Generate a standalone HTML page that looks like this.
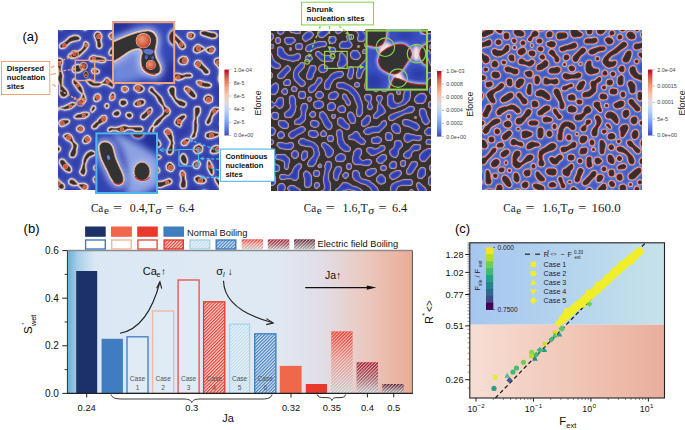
<!DOCTYPE html>
<html><head><meta charset="utf-8"><style>
html,body{margin:0;padding:0;background:#fff;width:685px;height:430px;overflow:hidden}
svg{display:block}
</style></head><body>
<svg width="685" height="430" viewBox="0 0 685 430">
<defs>
<path id="bp1" d="M63.0,28.1 61.0,28.5 60.0,28.1 59.4,27.0 61.0,26.4 63.0,26.6 63.6,27.0 63.0,28.1ZM85.2,29.1 82.2,28.1 80.9,27.0 83.2,26.4 86.2,26.6 86.8,27.0 86.6,28.0 85.2,29.1ZM135.5,32.2 133.5,32.6 131.5,32.0 133.3,28.0 134.5,26.7 136.5,26.9 137.6,29.0 137.0,31.0 135.5,32.2ZM184.8,27.1 182.8,27.5 181.7,27.0 183.8,26.6 184.8,27.1ZM221.0,28.1 220.4,27.0 221.0,26.6 221.4,27.0 221.0,28.1ZM150.6,36.1 148.6,36.5 146.6,35.2 146.0,34.0 146.6,31.9 148.6,31.4 150.7,32.0 151.5,34.0 150.6,36.1ZM215.0,37.1 212.0,37.5 202.9,34.5 201.8,34.0 201.4,33.0 201.9,31.9 204.9,31.4 211.0,33.3 214.0,33.5 216.0,35.0 216.0,36.0 215.0,37.1ZM100.3,47.1 99.3,47.5 98.1,47.0 97.7,46.0 97.6,42.0 95.2,36.0 95.7,34.0 97.2,32.9 99.3,33.4 100.8,36.0 99.8,40.0 99.9,42.0 100.8,44.0 100.8,46.0 100.3,47.1ZM113.3,38.2 112.3,38.5 111.3,38.1 109.8,36.0 110.3,34.8 112.3,33.5 115.4,34.9 115.8,36.0 115.4,37.1 113.3,38.2ZM126.4,36.1 124.4,36.5 123.4,36.0 123.4,35.0 126.4,33.5 128.3,34.0 126.4,36.1ZM182.8,48.1 181.8,48.1 179.8,46.2 177.5,42.0 174.7,39.2 171.7,37.7 165.7,37.5 160.6,42.0 159.6,41.0 160.6,39.5 165.7,35.9 168.7,34.5 171.7,33.9 174.7,35.4 183.3,44.0 184.3,46.0 184.3,47.0 182.8,48.1ZM192.8,37.1 190.8,38.0 188.8,37.1 188.3,36.0 188.7,34.0 190.8,33.4 192.8,33.9 193.8,35.0 192.8,37.1ZM64.0,47.1 61.0,47.4 60.5,46.0 60.9,45.0 66.0,41.8 70.1,37.9 74.1,36.5 76.1,36.4 78.1,36.9 79.2,38.0 79.1,39.0 78.1,39.5 72.1,40.7 69.4,42.0 64.0,47.1ZM74.1,57.2 72.1,57.5 69.3,56.0 70.1,54.9 78.1,52.3 81.1,50.8 83.6,48.0 84.5,46.0 85.2,43.0 86.2,43.0 87.2,43.8 87.7,45.0 87.3,46.0 85.3,49.0 79.1,55.1 74.1,57.2ZM155.6,68.1 153.6,68.5 152.4,67.0 152.1,66.0 152.9,64.0 153.1,57.0 150.4,53.0 144.5,47.6 142.5,46.6 138.5,46.5 135.5,45.1 135.0,44.0 135.5,42.9 137.5,42.4 139.5,42.8 151.6,48.9 153.7,51.0 154.2,53.0 154.1,59.0 157.2,65.0 156.8,67.0 155.6,68.1ZM111.3,54.1 110.3,54.0 109.9,53.0 111.2,50.0 112.3,48.9 115.4,47.5 117.4,47.4 123.4,45.5 124.5,46.0 124.9,47.0 124.4,48.1 123.4,48.5 119.4,48.6 116.4,50.2 113.3,53.1 111.3,54.1ZM198.9,51.2 196.9,52.0 194.9,51.1 194.3,50.0 194.7,48.0 196.9,45.9 197.9,45.5 200.9,46.9 203.7,49.0 198.9,51.2ZM212.0,52.1 211.0,52.5 209.9,52.2 207.9,51.1 207.0,50.0 207.7,49.0 208.9,48.5 212.0,47.5 213.0,47.9 214.0,49.0 213.1,51.0 212.0,52.1ZM170.7,55.1 168.7,56.0 166.7,55.1 165.1,53.0 165.2,51.0 167.7,49.5 169.7,49.9 170.8,51.0 171.7,53.0 170.7,55.1ZM104.3,61.1 101.3,61.6 98.2,60.7 91.2,60.5 90.2,59.0 91.2,57.4 93.2,56.5 94.2,56.5 96.2,57.3 99.3,57.5 104.3,58.9 104.8,60.0 104.3,61.1ZM141.5,62.2 140.5,62.9 138.5,62.1 133.7,58.0 137.5,57.4 139.5,57.9 141.7,60.0 142.0,61.0 141.5,62.2ZM185.8,63.1 183.8,63.6 180.8,63.1 179.3,61.0 180.2,59.0 182.8,57.5 185.8,57.9 186.9,60.0 186.9,61.0 185.8,63.1ZM117.4,65.1 116.4,65.1 115.3,64.0 115.3,63.0 116.4,61.9 119.4,61.3 121.4,60.5 123.4,60.3 128.4,58.5 130.3,59.0 127.4,62.1 125.4,63.2 117.4,65.1ZM65.0,96.2 63.0,96.5 62.0,96.1 60.5,94.0 60.5,85.0 58.4,79.0 58.5,77.0 59.4,75.0 59.5,69.0 57.8,66.0 54.9,63.0 54.6,62.0 55.0,59.5 57.0,59.0 60.0,59.5 61.1,60.0 61.6,61.0 61.6,63.0 60.7,65.0 60.4,70.0 62.1,76.0 61.6,79.0 61.5,86.0 66.2,91.0 67.1,93.0 66.6,95.0 65.0,96.2ZM221.0,84.2 219.4,79.0 219.5,77.0 220.4,75.0 220.5,69.0 218.8,66.0 215.8,63.0 215.4,62.0 215.5,60.0 218.0,59.0 221.0,59.5 221.6,61.0 221.3,70.0 221.6,79.0 221.0,84.2ZM207.9,73.1 206.9,73.5 204.9,73.1 201.9,69.2 196.7,66.0 195.4,64.0 196.3,62.0 197.9,61.4 200.0,62.0 202.1,65.0 208.1,71.0 208.4,72.0 207.9,73.1ZM79.1,71.2 78.1,71.5 74.1,71.5 73.1,70.0 74.0,67.0 77.1,65.5 80.1,65.9 81.3,67.0 81.7,69.0 81.1,70.1 79.1,71.2ZM169.7,70.5 167.7,70.1 165.5,68.0 165.2,67.0 165.7,65.9 167.7,65.4 169.2,66.0 170.2,68.0 170.5,70.0 169.7,70.5ZM98.2,72.0 97.2,72.5 94.2,72.5 93.1,72.0 92.7,71.0 93.2,69.9 95.2,69.5 98.2,71.0 98.2,72.0ZM144.5,76.1 142.5,76.6 140.5,76.1 138.4,74.0 138.4,73.0 140.5,71.5 143.5,71.9 145.6,74.0 145.6,75.0 144.5,76.1ZM127.4,78.1 124.4,78.5 121.4,77.1 120.9,76.0 121.3,74.0 124.4,72.5 128.4,73.9 129.0,76.0 127.4,78.1ZM178.8,79.1 177.7,79.1 175.6,78.0 174.9,75.0 175.7,74.5 178.8,74.5 180.8,75.3 183.8,75.5 185.8,74.5 189.8,74.5 190.9,75.0 191.2,76.0 189.8,76.5 184.8,76.5 181.8,78.2 178.8,79.1ZM161.6,82.2 159.6,82.6 155.6,82.4 155.1,81.0 155.5,80.0 157.6,77.9 160.6,77.5 163.1,79.0 163.1,81.0 161.6,82.2ZM112.3,86.8 107.3,83.7 102.4,83.0 104.3,81.8 106.3,79.0 107.3,78.9 112.5,84.0 112.8,85.0 112.3,86.8ZM82.2,92.9 79.0,90.0 74.0,83.0 73.6,81.0 74.1,80.0 79.1,84.8 81.3,88.0 82.5,92.0 82.2,92.9ZM99.3,85.1 98.2,85.5 93.2,85.5 90.2,84.1 87.4,81.0 89.2,80.5 94.2,83.4 99.3,83.5 101.1,84.0 99.3,85.1ZM209.9,86.1 208.9,86.5 204.9,86.5 202.9,85.7 200.9,85.5 198.7,84.0 197.5,82.0 199.9,81.5 204.9,83.3 207.9,83.5 210.4,85.0 209.9,86.1ZM140.5,91.2 138.5,91.5 135.0,89.0 135.3,87.0 136.5,85.9 138.5,85.5 141.5,86.9 142.7,88.0 143.0,89.0 142.6,90.0 140.5,91.2ZM125.4,91.1 124.4,91.1 122.9,90.0 123.0,88.0 123.4,87.6 125.4,87.5 126.4,87.9 127.4,89.0 127.0,90.0 125.4,91.1ZM183.8,106.1 179.6,105.0 175.6,101.0 172.5,96.0 170.6,94.0 169.2,90.0 170.7,87.9 172.7,87.5 173.8,88.0 174.3,89.0 174.3,96.0 175.8,99.0 177.7,100.4 181.8,101.5 184.9,103.0 185.3,104.0 184.9,105.0 183.8,106.1ZM194.9,97.1 193.8,97.5 191.3,96.0 185.7,90.0 185.3,89.0 185.8,87.9 186.8,87.5 189.8,88.9 193.0,92.0 195.0,95.0 195.3,96.0 194.9,97.1ZM154.6,126.0 154.1,125.0 154.5,124.0 156.5,121.0 163.5,115.0 164.9,111.0 163.3,106.0 159.5,102.0 156.4,96.0 153.6,93.2 150.4,91.0 150.1,90.0 150.4,89.0 151.6,88.0 152.6,88.8 153.8,91.0 160.8,98.0 164.0,106.0 164.8,107.0 167.7,108.8 169.2,111.0 168.7,113.2 164.7,116.2 161.8,119.0 160.6,121.2 156.8,125.0 154.6,126.0ZM112.3,99.1 111.3,99.4 110.9,99.0 110.8,97.0 112.3,94.0 113.3,94.0 113.8,95.0 113.8,98.0 112.3,99.1ZM83.2,102.2 82.2,102.5 81.1,102.1 80.2,101.0 82.6,97.0 83.2,94.2 84.7,98.0 84.8,100.0 84.6,101.0 83.2,102.2ZM97.2,100.2 96.2,100.5 95.2,100.1 94.7,98.0 96.2,95.4 98.2,94.9 99.4,96.0 99.8,98.0 99.3,99.1 97.2,100.2ZM208.9,102.1 207.9,102.1 205.9,101.1 205.0,99.0 205.8,97.0 207.9,95.9 208.9,95.9 211.0,96.9 211.5,98.0 211.1,101.0 208.9,102.1ZM123.4,105.1 122.4,105.1 120.9,104.0 120.8,102.0 121.3,101.0 122.4,100.5 125.4,100.9 126.3,103.0 125.4,104.1 123.4,105.1ZM139.5,105.2 137.5,105.6 135.5,105.1 135.0,104.0 135.3,103.0 136.5,101.9 139.5,100.5 142.5,100.5 143.5,100.9 144.0,102.0 143.5,103.2 142.5,104.1 139.5,105.2ZM69.1,108.2 65.0,108.9 61.2,108.0 64.0,107.5 72.1,103.5 74.9,104.0 71.1,107.1 69.1,108.2ZM107.3,107.0 106.3,107.0 105.9,106.0 106.3,104.9 107.3,104.6 107.8,106.0 107.3,107.0ZM93.2,110.1 92.2,111.0 91.8,110.0 93.2,107.0 94.2,107.0 94.7,108.0 94.3,109.0 93.2,110.1ZM193.8,137.1 192.8,137.4 191.9,137.0 194.3,132.0 194.4,122.0 195.4,119.0 195.3,109.0 195.9,107.9 197.9,107.5 198.9,107.9 199.4,109.0 199.4,112.0 198.0,115.0 196.4,117.0 196.4,123.0 196.8,125.0 196.3,131.0 195.4,133.0 195.0,136.0 193.8,137.1ZM55.0,111.2 54.6,110.0 55.0,108.5 57.8,109.0 55.0,111.2ZM144.5,118.1 143.5,118.5 142.0,118.0 141.6,117.0 142.4,115.0 144.5,113.8 148.6,109.4 150.6,108.6 151.1,110.0 150.7,112.0 144.5,118.1ZM208.9,123.2 207.9,123.9 206.9,123.0 206.8,122.0 210.4,115.0 211.8,111.0 214.0,108.9 215.0,108.5 218.8,109.0 217.0,110.2 212.1,115.0 210.6,119.0 210.5,121.0 208.9,123.2ZM118.4,115.1 116.4,115.6 114.4,115.1 113.9,114.0 114.2,113.0 116.4,111.5 118.4,111.5 119.3,113.0 118.4,115.1ZM84.2,117.2 79.1,117.6 76.1,117.5 75.1,117.0 76.1,115.9 78.1,114.8 81.1,114.3 83.2,113.5 87.2,113.5 88.1,114.0 87.2,115.5 84.2,117.2ZM130.4,117.1 129.4,117.5 127.4,116.2 126.9,115.0 127.4,113.9 129.4,113.5 130.6,114.0 131.5,115.0 131.5,116.0 130.4,117.1ZM179.8,125.9 176.6,124.0 175.7,123.0 175.7,122.0 176.6,120.0 178.8,117.9 181.8,115.9 183.8,115.5 184.8,116.0 184.8,117.0 181.8,120.3 180.4,123.0 179.8,125.9ZM96.2,127.1 94.2,127.9 92.8,127.0 93.2,125.9 96.2,122.9 97.9,122.0 99.1,120.0 102.3,116.9 104.3,116.5 105.3,116.9 105.8,118.0 105.4,120.0 104.3,121.1 98.6,124.0 96.2,127.1ZM63.0,125.2 62.0,125.5 61.0,125.1 60.0,124.0 59.9,123.0 61.0,121.4 63.0,120.5 67.1,120.5 68.5,121.0 68.2,122.0 67.1,123.1 63.0,125.2ZM221.0,124.1 221.0,122.9 221.0,124.1ZM81.1,131.1 80.1,131.1 78.1,130.1 77.6,129.0 78.1,127.8 80.1,126.5 82.2,127.4 83.1,129.0 82.7,130.0 81.1,131.1ZM122.4,131.2 120.4,131.5 116.4,129.5 112.3,129.5 109.3,131.0 108.8,130.0 109.3,128.9 111.3,128.1 113.3,128.6 117.4,128.4 123.4,126.4 125.4,126.5 128.4,127.6 140.5,127.5 141.6,128.0 142.0,129.0 141.6,130.0 140.5,130.5 137.5,130.6 135.5,130.2 132.5,128.5 127.4,128.5 122.4,131.2ZM158.6,146.1 157.6,146.1 155.6,145.1 152.0,140.0 150.0,132.0 150.5,130.0 151.5,128.0 152.6,127.0 153.0,128.0 152.1,130.0 152.1,135.0 153.8,138.0 158.8,142.0 159.7,144.0 159.7,145.0 158.6,146.1ZM170.7,153.5 168.7,153.4 168.2,153.0 168.1,151.0 171.2,144.0 171.2,141.0 165.2,132.0 165.7,130.8 167.7,129.5 169.7,130.8 171.2,133.0 171.4,135.0 172.2,137.0 172.2,141.0 173.1,143.0 172.3,145.0 172.3,151.0 170.7,153.5ZM212.0,137.2 208.9,137.6 206.9,137.1 206.4,136.0 206.8,134.0 211.0,132.5 218.0,134.0 218.0,135.0 212.0,137.2ZM57.0,135.0 55.0,135.6 54.6,134.0 55.0,133.5 56.0,133.5 57.0,134.0 57.0,135.0ZM74.1,156.1 72.1,156.5 71.1,156.1 70.5,155.0 70.9,153.0 73.5,148.0 73.5,145.0 72.7,143.0 71.1,141.1 67.1,139.1 64.3,136.0 67.1,134.5 69.1,134.9 71.2,137.0 73.1,142.0 76.3,145.0 76.7,146.0 75.7,149.0 75.7,153.0 74.1,156.1ZM102.3,143.5 100.3,143.5 99.3,143.1 98.7,142.0 98.7,140.0 100.3,137.9 104.3,135.5 105.3,136.0 104.8,139.0 102.3,143.5ZM87.2,142.2 85.2,142.5 84.1,142.0 83.7,141.0 85.0,138.0 87.2,136.5 88.3,137.0 89.7,139.0 88.7,141.0 87.2,142.2ZM185.8,144.1 183.8,144.5 182.8,144.1 182.3,143.0 182.6,142.0 183.8,140.9 186.8,139.5 188.7,140.0 185.8,144.1ZM142.5,145.1 139.5,145.5 134.5,143.6 131.5,144.5 127.4,144.5 126.3,144.0 125.9,143.0 127.4,140.9 130.4,140.5 132.5,141.4 137.5,141.5 139.5,142.3 141.5,142.5 142.6,143.0 143.0,144.0 142.5,145.1ZM115.4,146.1 114.4,146.5 113.3,146.1 112.8,144.0 114.2,142.0 115.4,141.5 116.5,142.0 116.9,144.0 115.4,146.1ZM198.9,152.2 196.9,152.5 195.9,152.1 194.4,150.0 195.8,147.0 198.9,145.5 201.4,147.0 201.5,149.0 201.0,151.0 198.9,152.2ZM55.0,152.2 54.3,150.0 54.6,147.0 55.0,146.5 56.0,146.4 58.0,146.9 59.1,148.0 59.5,149.0 59.1,150.0 58.0,151.1 55.0,152.2ZM216.0,152.2 213.0,152.6 211.5,152.0 211.4,151.0 212.9,148.0 216.0,146.5 219.0,146.9 220.1,148.0 220.5,149.0 220.1,150.0 219.0,151.1 216.0,152.2ZM84.2,174.1 83.2,174.5 82.2,174.1 80.6,172.0 82.5,168.0 82.7,166.0 83.7,164.0 83.7,161.0 85.0,157.0 87.0,154.0 88.2,152.9 91.2,151.5 94.2,153.0 94.2,154.0 89.2,156.2 86.7,159.0 84.7,164.0 84.7,168.0 85.2,171.0 84.2,174.1ZM122.4,157.1 120.4,157.6 118.4,157.1 117.3,156.0 117.8,154.0 120.4,152.5 122.4,153.5 123.0,155.0 122.4,157.1ZM104.3,158.2 101.3,158.5 99.5,156.0 104.3,154.5 106.3,154.5 107.3,155.0 107.4,156.0 106.5,157.0 104.3,158.2ZM136.5,158.1 134.5,158.6 133.0,158.0 133.3,156.0 134.5,154.9 135.5,154.5 136.5,154.9 137.4,156.0 136.5,158.1ZM158.6,158.0 153.6,157.5 150.6,158.5 147.6,158.5 146.4,158.0 145.6,156.0 146.6,154.9 147.6,154.5 151.6,154.5 153.6,155.4 156.6,155.5 159.6,156.7 160.0,157.0 158.6,158.0ZM185.8,163.4 183.6,163.0 182.6,162.0 181.2,159.0 181.2,157.0 182.8,154.9 183.8,154.9 184.9,156.0 186.3,159.0 186.4,162.0 185.8,163.4ZM70.1,171.1 69.1,171.5 66.0,170.1 62.9,167.0 60.5,163.0 60.5,161.0 61.0,160.5 62.0,160.0 64.0,160.9 65.3,163.0 70.2,168.0 70.6,170.0 70.1,171.1ZM197.9,167.1 196.9,167.5 194.9,167.1 193.9,165.0 194.7,163.0 196.9,161.9 197.9,161.9 199.0,163.0 199.4,164.0 197.9,167.1ZM212.0,174.0 210.9,173.0 208.4,168.0 208.5,163.0 208.9,161.3 211.1,165.0 212.5,169.0 212.5,173.0 212.0,174.0ZM171.7,170.1 170.7,170.5 167.6,169.0 167.1,166.0 168.7,163.9 169.7,163.5 170.7,163.9 172.9,166.0 173.3,168.0 171.7,170.1ZM129.4,178.5 127.4,178.2 125.9,177.0 125.8,170.0 125.9,168.0 126.9,166.0 129.4,164.6 130.0,167.0 129.0,171.0 129.1,175.0 130.0,177.0 130.0,178.0 129.4,178.5ZM96.2,169.0 95.2,169.0 94.8,168.0 95.1,167.0 96.2,166.0 97.2,166.0 97.7,167.0 97.4,168.0 96.2,169.0ZM110.3,172.2 109.3,172.5 107.3,171.2 106.8,170.0 107.2,169.0 109.3,166.9 112.3,165.5 113.3,165.9 114.5,167.0 114.8,168.0 114.5,169.0 112.3,171.1 110.3,172.2ZM157.6,172.1 155.6,172.5 154.5,172.0 153.6,170.0 154.6,168.4 156.6,167.9 158.2,169.0 158.7,171.0 157.6,172.1ZM145.5,180.1 144.5,180.5 143.5,180.1 142.0,178.0 141.8,176.0 141.0,174.0 141.0,170.0 141.5,168.9 142.5,168.5 143.5,168.5 144.5,169.7 146.1,174.0 146.1,179.0 145.5,180.1ZM184.8,187.1 182.8,187.5 181.8,187.1 181.2,186.0 181.2,184.0 182.2,181.0 182.2,177.0 181.2,175.0 181.3,173.0 181.8,172.0 182.8,172.0 184.3,174.0 184.4,179.0 185.4,182.0 185.3,186.0 184.8,187.1ZM203.9,182.1 200.9,182.6 197.9,182.1 195.7,180.0 195.4,179.0 195.8,178.0 197.9,176.9 202.9,177.9 205.0,180.0 205.0,181.0 203.9,182.1ZM104.3,183.4 102.3,184.0 98.2,183.2 94.7,181.0 94.2,179.0 95.2,177.9 96.2,177.5 97.2,177.8 103.3,180.9 104.4,182.0 104.7,183.0 104.3,183.4ZM63.0,188.1 61.0,188.5 59.9,188.0 55.9,182.0 54.9,180.0 55.0,178.6 56.0,178.9 61.0,183.8 63.1,185.0 63.6,187.0 63.0,188.1ZM221.0,188.1 216.9,182.0 215.6,179.0 216.0,178.6 217.0,178.9 221.2,183.0 221.6,185.0 221.0,188.1ZM76.1,184.4 73.1,184.5 70.1,183.1 69.6,182.0 69.9,181.0 71.1,179.9 72.1,179.9 74.1,180.9 77.0,184.0 76.1,184.4ZM161.6,186.2 160.6,186.5 156.6,186.4 156.2,186.0 156.1,184.0 158.6,182.5 162.7,182.3 168.7,179.9 169.7,179.9 170.8,181.0 170.8,182.0 169.7,183.1 164.7,184.7 161.6,186.2ZM116.4,185.2 115.4,185.5 114.1,185.0 112.9,184.0 113.2,183.0 115.4,180.9 116.4,180.5 119.4,180.5 120.3,181.0 119.4,183.2 116.4,185.2ZM85.2,189.1 82.2,188.1 79.3,185.0 80.1,184.6 84.2,184.5 86.2,185.5 86.7,186.0 86.6,188.0 85.2,189.1ZM135.5,192.1 133.5,192.4 131.5,192.0 134.5,186.2 136.5,186.9 137.6,189.0 137.0,191.0 135.5,192.1ZM150.6,192.1 148.6,192.4 146.4,192.0 148.6,191.4 150.6,192.1ZM206.9,192.1 203.9,192.4 201.8,192.0 202.9,191.5 204.9,191.4 207.2,192.0 206.9,192.1Z" fill-rule="evenodd"/>
<clipPath id="cp_bp1"><rect x="58" y="30" width="161" height="160"/></clipPath>
<filter id="bf_bp1_3.5" x="48" y="20" width="181" height="180" filterUnits="userSpaceOnUse"><feGaussianBlur stdDeviation="3.5"/></filter>
<filter id="bf_bp1_1.0" x="48" y="20" width="181" height="180" filterUnits="userSpaceOnUse"><feGaussianBlur stdDeviation="1.0"/></filter>
<path id="bp2" d="M281.0,34.2 280.0,34.2 277.9,33.0 277.7,28.0 279.0,27.4 281.0,27.2 285.0,27.8 284.2,31.0 283.1,33.0 281.0,34.2ZM300.0,33.1 296.0,33.3 294.0,32.5 291.0,32.2 287.8,29.0 287.8,28.0 291.0,27.3 297.0,27.8 300.2,30.0 300.0,33.1ZM317.0,28.2 315.8,28.0 317.0,27.8 317.0,28.2ZM323.0,37.2 320.0,37.2 317.8,35.0 317.8,34.0 320.0,31.8 323.7,30.0 325.0,27.6 327.0,27.3 330.0,27.6 330.3,28.0 330.2,30.0 328.5,32.0 328.2,33.0 326.2,35.0 323.0,37.2ZM363.0,41.2 359.0,41.2 357.8,40.0 357.7,38.0 358.5,36.0 358.5,34.0 357.0,31.5 355.0,30.5 352.0,30.2 351.0,29.5 347.0,29.5 346.0,30.2 343.0,30.5 339.0,33.2 338.0,33.3 337.0,33.2 335.8,32.0 335.8,30.0 339.0,27.7 341.0,27.3 355.0,27.4 358.0,27.8 360.2,29.0 364.3,33.0 366.2,36.0 366.2,37.0 365.2,39.0 363.0,41.2ZM376.0,38.2 374.0,38.2 371.8,36.0 371.5,30.0 370.5,28.0 371.0,27.6 376.0,27.5 377.2,28.0 378.2,30.0 378.2,36.0 376.0,38.2ZM394.0,33.2 393.0,33.2 390.9,32.0 390.7,28.0 391.0,27.6 395.0,27.3 397.2,28.0 395.2,32.0 394.0,33.2ZM425.0,33.2 421.0,33.2 418.8,31.0 417.5,28.0 420.0,27.3 425.0,27.8 426.3,31.0 426.2,32.0 425.0,33.2ZM413.0,39.2 411.0,40.0 409.0,39.1 407.8,36.0 408.8,32.0 411.0,29.8 412.0,29.8 414.2,32.0 414.3,37.0 414.2,38.0 413.0,39.2ZM306.0,41.2 305.0,41.2 302.8,39.0 302.8,36.0 306.0,32.8 308.0,31.8 311.0,31.8 313.2,34.0 313.2,35.0 311.0,38.1 306.0,41.2ZM396.0,54.2 391.0,54.2 387.8,51.0 386.7,47.0 386.5,43.0 382.8,36.0 382.8,33.0 384.0,31.8 387.0,31.8 389.2,34.0 390.3,37.0 390.5,42.0 391.5,44.0 393.0,46.7 395.2,48.0 397.2,50.0 397.2,53.0 396.0,54.2ZM403.0,39.2 400.0,39.2 398.8,38.0 398.8,34.0 401.0,31.8 402.0,31.8 404.1,33.0 404.2,38.0 403.0,39.2ZM270.0,41.2 268.0,41.3 267.6,41.0 267.3,37.0 268.0,33.8 272.0,33.8 273.2,35.0 273.2,38.0 270.0,41.2ZM430.0,41.2 427.0,41.2 425.8,40.0 425.8,36.0 428.0,33.8 432.0,33.8 433.2,35.0 433.2,38.0 430.0,41.2ZM349.0,48.2 341.0,48.2 339.8,47.0 339.7,45.0 339.8,44.0 342.0,41.8 346.0,41.6 347.6,41.0 347.6,39.0 346.7,37.0 346.8,36.0 348.0,34.8 349.0,34.7 350.0,34.8 351.2,36.0 351.2,38.0 349.4,40.0 349.4,41.0 351.2,43.0 352.0,45.0 351.1,47.0 349.0,48.2ZM333.0,43.2 331.0,43.2 328.8,41.0 328.8,39.0 331.0,36.8 335.0,36.9 336.0,39.0 335.1,42.0 333.0,43.2ZM279.0,43.2 277.0,43.2 275.8,42.0 275.8,39.0 277.0,37.8 279.0,37.8 280.2,39.0 280.2,42.0 279.0,43.2ZM291.0,44.2 287.0,44.2 285.0,42.2 284.8,39.0 285.8,38.0 287.0,37.7 293.0,37.8 295.0,39.8 295.2,41.0 294.3,42.0 291.0,44.2ZM421.0,45.2 418.0,45.2 416.8,44.0 416.8,40.0 418.0,38.8 421.0,38.8 422.2,40.0 422.2,44.0 421.0,45.2ZM310.0,51.2 307.0,51.2 305.8,50.0 305.7,49.0 306.9,46.0 309.0,44.8 311.0,44.5 312.0,43.8 314.0,43.5 315.0,42.8 319.0,41.7 325.0,41.8 326.2,43.0 326.2,45.0 325.0,46.2 321.0,46.5 320.0,47.2 317.0,47.5 310.0,51.2ZM369.0,47.2 366.0,47.2 364.8,46.0 364.8,44.0 367.0,41.8 369.0,41.8 370.2,43.0 370.2,46.0 369.0,47.2ZM377.0,53.2 373.0,53.1 371.8,51.0 371.8,50.0 373.0,47.8 377.8,43.0 380.0,42.8 381.2,44.0 382.2,46.0 382.2,47.0 380.0,51.2 377.0,53.2ZM301.0,49.2 297.0,49.2 296.0,48.2 295.8,45.0 296.8,44.0 300.0,43.7 301.0,43.8 302.0,44.8 302.2,48.0 301.0,49.2ZM413.0,56.2 410.0,56.2 404.0,53.2 403.0,52.2 401.7,49.0 401.8,45.0 402.8,44.0 406.0,43.9 407.5,47.0 409.0,48.5 411.0,48.5 413.0,46.8 414.0,46.8 416.0,48.8 416.2,52.0 415.2,54.0 413.0,56.2ZM273.0,48.1 269.9,48.0 269.8,46.0 271.0,44.8 273.1,45.0 273.0,48.1ZM433.0,48.1 429.9,48.0 429.8,46.0 431.0,44.8 433.1,45.0 433.4,47.0 433.0,48.1ZM359.0,47.1 357.9,47.0 358.0,45.9 359.1,46.0 359.0,47.1ZM294.0,61.2 292.0,61.2 291.0,60.5 288.0,60.2 287.0,59.5 284.0,59.2 283.0,58.5 280.8,58.0 277.8,55.0 277.9,48.0 280.0,47.0 282.0,47.8 283.2,49.0 284.0,51.7 288.0,55.5 293.0,55.5 297.0,53.8 299.2,54.0 300.2,55.0 300.2,58.0 298.0,60.2 295.0,60.5 294.0,61.2ZM291.0,50.1 289.9,50.0 290.0,47.9 291.1,48.0 291.0,50.1ZM334.0,53.2 331.0,53.2 329.8,52.0 330.0,47.9 334.0,47.8 335.2,49.0 335.2,52.0 334.0,53.2ZM365.0,53.2 362.9,53.0 362.8,51.0 364.0,49.8 365.0,49.8 366.2,51.0 366.2,52.0 365.0,53.2ZM433.0,67.2 430.8,65.0 428.5,59.0 422.8,54.0 422.8,51.0 424.0,49.8 427.0,49.8 429.0,50.9 431.2,54.0 433.2,59.0 433.6,61.0 433.7,65.0 433.0,67.2ZM279.0,68.2 275.0,68.2 273.0,67.2 270.8,65.0 269.8,63.0 269.5,61.0 267.5,57.0 267.4,52.0 268.0,50.5 269.1,51.0 271.2,54.0 272.2,56.0 272.5,58.0 274.0,60.7 276.0,62.5 279.0,63.8 280.2,65.0 280.2,67.0 279.0,68.2ZM358.0,59.2 354.0,59.2 351.9,58.0 350.8,56.0 350.7,54.0 350.8,53.0 353.0,50.8 357.0,50.8 359.2,53.0 360.2,55.0 360.2,57.0 358.0,59.2ZM332.0,61.1 324.0,61.3 321.0,60.2 315.8,55.0 315.8,53.0 317.0,51.8 319.0,51.8 322.0,54.5 324.0,55.5 331.0,55.8 333.2,58.0 333.2,59.0 332.0,61.1ZM343.0,67.2 339.0,67.2 337.8,66.0 337.7,65.0 337.8,63.0 339.5,60.0 339.8,54.0 341.0,52.8 342.0,52.8 345.2,56.0 347.3,62.0 347.0,63.2 343.0,67.2ZM386.0,62.2 383.0,62.2 380.8,60.0 380.8,57.0 383.0,54.8 385.0,54.8 387.2,57.0 388.0,59.0 387.2,61.0 386.0,62.2ZM310.0,61.2 307.0,61.2 305.8,60.0 305.8,57.0 307.0,55.8 311.1,56.0 312.2,58.0 312.2,59.0 310.0,61.2ZM360.0,78.2 358.0,78.2 356.8,77.0 356.7,73.0 357.5,71.0 357.8,68.0 365.0,60.7 367.0,57.7 368.0,56.8 370.0,56.8 372.2,59.0 372.2,61.0 370.1,64.0 368.3,65.0 363.5,70.0 361.5,75.0 361.2,77.0 360.0,78.2ZM413.0,76.1 408.0,76.2 407.0,75.5 405.0,75.2 402.0,73.2 399.5,68.0 395.8,64.0 395.8,60.0 396.8,59.0 401.0,58.7 402.0,58.8 403.3,60.0 404.2,61.0 404.5,66.0 406.0,68.7 408.0,70.5 411.0,70.8 413.0,71.8 414.2,73.0 414.2,74.0 413.0,76.1ZM423.0,69.2 422.0,69.2 420.0,68.2 418.0,65.3 417.0,64.4 416.0,64.2 415.2,66.0 414.0,67.2 411.0,67.1 410.8,64.0 412.0,62.8 416.0,63.8 416.5,63.0 416.8,60.0 417.8,59.0 421.0,58.8 422.2,60.0 425.2,65.0 425.2,67.0 423.0,69.2ZM381.0,69.1 379.0,70.0 375.9,69.0 374.8,67.0 374.7,65.0 374.8,64.0 377.0,61.8 379.0,61.8 381.2,64.0 382.2,66.0 382.2,67.0 381.0,69.1ZM303.0,86.2 301.0,86.2 300.0,85.3 294.8,80.0 293.7,77.0 293.8,72.0 295.8,68.0 300.8,63.0 302.0,62.7 303.0,62.8 304.2,64.0 304.2,67.0 298.5,73.0 298.4,75.0 299.0,76.7 302.3,80.0 304.1,81.0 305.2,83.0 305.2,84.0 303.0,86.2ZM324.0,72.2 321.0,72.2 318.8,70.0 318.8,68.0 319.9,66.0 322.0,64.8 324.0,64.8 326.0,65.8 327.2,67.0 327.2,70.0 326.0,71.2 324.0,72.2ZM282.0,78.2 279.0,78.2 277.8,77.0 277.8,75.0 286.0,66.7 287.0,65.8 288.0,65.8 290.2,68.0 290.2,70.0 286.0,74.3 284.2,77.0 282.0,78.2ZM311.0,79.2 307.8,79.0 306.8,78.0 306.8,75.0 310.0,66.8 311.0,65.8 315.0,65.9 316.0,68.0 315.2,71.0 313.5,74.0 313.2,76.0 312.2,78.0 311.0,79.2ZM392.0,72.2 389.0,72.2 387.8,71.0 387.8,67.0 389.0,65.8 392.0,65.8 393.2,67.0 394.0,69.0 393.2,71.0 392.0,72.2ZM352.0,78.1 350.0,79.0 348.0,77.2 347.7,76.0 347.8,74.0 348.5,73.0 348.8,69.0 351.0,66.8 352.2,67.0 353.2,68.0 353.3,69.0 353.3,73.0 352.5,75.0 352.0,78.1ZM329.0,89.1 326.0,89.2 324.8,88.0 324.7,84.0 325.8,81.0 329.0,77.7 330.8,75.0 334.0,72.8 338.0,71.7 342.0,71.8 343.2,73.0 343.2,75.0 341.0,77.2 338.0,77.5 333.3,80.0 330.5,85.0 330.2,87.0 329.0,89.1ZM386.0,91.2 383.0,91.2 380.0,88.4 377.0,91.2 376.0,91.3 375.0,91.2 372.0,88.5 370.0,88.5 369.0,89.2 367.0,89.3 366.0,89.2 365.0,88.2 364.7,85.0 365.5,83.0 365.8,80.0 366.5,79.0 366.8,75.0 368.8,72.0 372.0,71.8 373.2,73.0 373.2,77.0 371.5,80.0 371.5,85.0 373.0,85.6 377.0,85.8 379.0,87.6 380.0,87.7 382.0,84.9 384.0,83.8 386.0,83.8 387.2,85.0 388.2,87.0 388.2,88.0 387.2,90.0 386.0,91.2ZM268.0,79.3 267.3,77.0 267.6,73.0 268.0,72.7 271.0,72.8 272.2,74.0 272.1,77.0 268.0,79.3ZM385.0,80.2 383.0,80.2 381.0,79.2 378.8,77.0 378.8,75.0 381.0,72.8 385.0,72.8 387.0,73.8 388.2,75.0 388.2,78.0 387.0,79.2 385.0,80.2ZM426.0,87.2 424.0,87.2 422.8,86.0 421.8,84.0 421.5,82.0 419.8,79.0 419.8,77.0 422.0,74.8 424.0,73.8 428.0,72.7 431.0,72.8 432.2,74.0 432.1,77.0 429.0,78.5 427.5,80.0 427.2,86.0 426.0,87.2ZM312.0,92.2 310.0,92.2 308.8,91.0 308.8,88.0 311.0,85.8 315.0,83.7 318.0,77.9 321.0,77.9 322.0,80.0 321.2,82.0 317.5,86.0 315.0,90.2 312.0,92.2ZM399.0,86.2 394.0,86.2 391.8,84.0 391.8,82.0 394.0,79.8 395.0,79.7 405.0,79.6 407.0,78.8 409.0,78.6 410.0,78.8 411.2,80.0 411.2,82.0 410.0,83.2 408.0,83.5 407.0,84.2 403.0,84.5 399.0,86.2ZM289.0,85.2 285.0,85.2 283.8,84.0 283.8,82.0 286.0,79.8 289.0,79.8 290.2,81.0 290.2,84.0 289.0,85.2ZM360.0,116.2 358.0,116.2 356.8,115.0 356.7,110.0 357.5,108.0 357.5,106.0 353.5,96.0 348.0,90.5 343.0,88.5 339.0,88.2 337.0,87.1 336.8,84.0 338.0,82.8 344.0,82.8 350.0,85.8 354.0,88.7 358.2,94.0 360.2,98.0 360.5,100.0 361.2,101.0 362.3,105.0 362.2,113.0 361.2,115.0 360.0,116.2ZM359.0,86.1 357.0,87.0 355.0,86.1 354.8,84.0 356.0,82.8 358.0,82.8 359.2,84.0 359.0,86.1ZM275.0,94.2 270.8,94.0 269.8,93.0 269.7,90.0 271.0,86.8 274.0,83.8 276.0,83.0 278.2,85.0 278.3,89.0 277.2,92.0 275.0,94.2ZM417.0,89.2 414.0,89.2 412.8,88.0 412.8,86.0 414.0,84.8 417.0,84.8 418.2,86.0 418.2,88.0 417.0,89.2ZM433.0,94.3 431.0,94.2 430.0,93.2 429.7,91.0 429.8,89.0 430.8,87.0 433.0,84.7 433.6,86.0 433.8,91.0 433.6,93.0 433.0,94.3ZM296.0,91.1 293.0,91.2 291.8,90.0 291.8,88.0 293.0,86.8 295.0,86.8 296.3,88.0 297.0,89.0 296.0,91.1ZM286.0,94.2 284.0,94.2 281.8,92.0 281.8,91.0 284.0,88.8 286.0,88.8 287.2,90.0 287.2,93.0 286.0,94.2ZM395.0,108.2 391.0,108.2 387.8,105.0 387.8,96.0 390.0,93.8 392.0,93.8 393.2,95.0 393.5,101.0 396.0,103.5 399.0,103.5 402.0,101.7 403.5,99.0 403.7,95.0 404.8,91.0 406.0,89.8 409.0,89.8 410.2,91.0 410.3,92.0 410.3,96.0 409.2,100.0 405.0,104.2 400.0,106.2 398.0,106.5 395.0,108.2ZM400.0,94.1 398.0,94.2 397.0,93.2 396.7,92.0 397.0,90.9 400.1,91.0 400.0,94.1ZM304.0,98.2 300.0,98.2 298.8,97.0 298.8,93.0 300.0,91.8 304.0,91.8 305.2,93.0 305.2,97.0 304.0,98.2ZM321.0,98.2 318.0,98.2 315.8,96.0 315.8,94.0 318.0,91.8 321.0,91.8 323.2,94.0 323.2,96.0 321.0,98.2ZM335.0,99.2 330.0,99.2 328.8,98.0 328.7,96.0 328.8,95.0 331.0,92.8 335.0,91.7 336.0,91.8 337.0,92.7 338.2,94.0 338.3,95.0 338.0,96.2 335.0,99.2ZM423.0,103.2 417.0,103.2 414.8,101.0 414.8,99.0 415.8,97.0 418.0,94.8 420.0,93.8 424.0,93.8 426.2,96.0 426.2,98.0 425.5,99.0 425.2,101.0 423.0,103.2ZM349.0,105.2 348.0,105.2 346.0,103.2 345.5,101.0 342.8,98.0 342.8,95.0 344.0,94.0 346.1,95.0 347.5,98.0 350.2,102.0 350.2,104.0 349.0,105.2ZM371.0,109.2 369.0,109.2 367.8,108.0 367.7,106.0 368.6,104.0 368.6,102.0 365.8,100.0 364.7,97.0 364.8,96.0 366.0,94.8 370.0,94.8 371.2,96.0 371.3,99.0 370.3,102.0 372.3,107.0 372.2,108.0 371.0,109.2ZM291.0,117.2 286.0,117.2 284.8,116.0 284.7,114.0 285.0,112.8 287.7,111.0 290.5,108.0 290.5,105.0 289.7,103.0 289.7,98.0 289.8,97.0 290.8,96.0 292.0,95.7 293.0,95.8 294.0,96.8 295.2,99.0 295.4,105.0 296.0,107.0 295.5,108.0 295.2,111.0 293.2,115.0 291.0,117.2ZM377.0,118.2 374.0,118.1 373.7,116.0 373.8,115.0 377.5,111.0 377.7,106.0 378.7,103.0 378.6,102.0 376.8,100.0 376.8,97.0 378.0,95.8 380.0,95.7 381.0,95.8 382.0,96.8 382.3,98.0 380.4,102.0 380.4,104.0 383.2,107.0 385.2,111.0 385.2,112.0 383.0,114.2 380.0,115.5 377.0,118.2ZM280.0,108.2 279.0,108.2 276.0,105.4 275.0,105.3 274.0,105.4 273.0,107.1 271.0,108.0 269.0,107.1 268.8,103.0 270.0,101.8 271.0,101.7 272.0,101.8 274.0,103.6 275.0,103.6 276.5,102.0 276.8,100.0 278.8,98.0 282.0,97.8 283.2,99.0 283.3,100.0 283.2,105.0 282.0,107.1 280.0,108.2ZM310.0,101.2 308.8,101.0 307.8,100.0 307.7,99.0 308.0,97.9 310.0,97.0 311.2,98.0 311.3,99.0 311.2,100.0 310.0,101.2ZM320.0,108.2 316.0,108.2 314.0,106.2 313.8,103.0 314.8,102.0 319.0,100.6 322.0,101.8 323.0,102.8 323.2,106.0 322.0,107.2 320.0,108.2ZM433.0,107.1 431.0,108.0 428.9,107.0 428.8,103.0 430.0,101.8 432.0,101.8 433.3,103.0 433.5,105.0 433.0,107.1ZM333.0,110.2 329.0,110.2 327.8,109.0 327.8,105.0 330.0,102.8 333.0,102.8 335.2,105.0 335.2,108.0 333.0,110.2ZM300.0,124.2 295.0,124.1 294.8,121.0 296.0,119.8 299.7,118.0 301.5,115.0 301.5,111.0 300.7,109.0 301.8,105.0 303.0,103.8 306.0,103.8 307.2,105.0 307.3,108.0 305.5,112.0 305.2,119.0 304.0,121.2 300.0,124.2ZM344.0,112.2 340.0,112.2 338.7,111.0 337.8,110.0 337.8,109.0 339.0,106.9 342.0,105.7 343.0,105.8 344.3,107.0 345.2,108.0 345.3,110.0 345.2,111.0 344.0,112.2ZM393.0,120.2 390.0,120.2 388.8,119.0 388.8,117.0 391.0,114.8 396.0,112.8 398.0,112.5 399.0,111.8 401.0,111.5 405.0,109.5 409.0,106.8 413.0,106.8 414.2,108.0 414.2,110.0 412.0,112.2 405.0,113.5 397.0,117.5 393.0,120.2ZM427.0,124.2 425.0,124.2 422.8,122.0 421.8,120.0 421.5,118.0 419.8,115.0 419.8,110.0 421.0,108.8 424.0,108.8 425.2,110.0 426.2,112.0 426.5,115.0 429.3,121.0 429.2,122.0 427.0,124.2ZM313.0,117.2 312.0,117.2 310.7,116.0 309.8,115.0 309.8,114.0 312.0,111.8 313.0,111.7 314.2,112.0 315.2,113.0 315.3,114.0 315.1,116.0 313.0,117.2ZM330.0,129.2 328.0,129.2 324.8,126.0 321.5,119.0 319.8,117.0 320.0,112.9 322.0,111.8 323.0,111.8 324.0,112.7 326.2,115.0 328.5,120.0 331.2,123.0 332.0,126.0 331.2,128.0 330.0,129.2ZM277.0,119.2 274.0,119.2 271.8,117.0 271.8,114.0 273.0,112.8 277.0,112.8 278.2,114.0 278.2,118.0 277.0,119.2ZM354.0,123.2 350.9,123.0 347.8,117.0 347.8,114.0 350.0,112.0 352.0,112.8 353.0,113.8 355.2,118.0 355.2,122.0 354.0,123.2ZM433.0,118.3 431.8,117.0 431.7,116.0 431.8,114.0 433.0,112.8 433.6,116.0 433.0,118.3ZM334.0,118.2 333.0,118.2 331.8,117.0 332.0,114.9 335.1,115.0 335.2,117.0 334.0,118.2ZM365.0,126.2 363.0,126.2 361.8,125.0 361.8,121.0 367.0,115.8 369.0,115.8 370.2,117.0 370.2,121.0 368.0,124.2 365.0,126.2ZM416.0,118.1 414.9,118.0 415.0,116.9 416.1,117.0 416.0,118.1ZM268.0,123.3 267.4,121.0 268.0,117.7 269.3,121.0 269.2,122.0 268.0,123.3ZM348.0,129.2 346.0,129.2 342.0,127.2 338.0,124.2 337.7,122.0 338.0,118.9 340.0,117.8 341.0,117.8 343.0,118.8 346.0,122.7 349.0,124.8 349.2,128.0 348.0,129.2ZM417.0,130.2 416.0,130.2 409.0,126.5 404.0,125.2 402.8,124.0 402.8,121.0 404.0,119.8 407.0,119.7 411.0,120.8 414.0,122.5 416.0,122.8 419.0,125.8 419.3,127.0 419.2,128.0 417.0,130.2ZM287.0,128.2 283.0,128.2 280.8,127.0 278.8,125.0 278.9,121.0 282.0,120.7 285.2,121.0 288.2,124.0 288.2,127.0 287.0,128.2ZM316.0,127.2 314.0,127.2 312.0,126.2 310.8,125.0 310.8,122.0 312.0,120.8 316.0,120.8 318.1,122.0 319.0,124.0 318.1,126.0 316.0,127.2ZM369.0,134.2 366.0,134.2 363.8,132.0 363.8,131.0 366.0,128.8 368.0,127.8 371.0,127.5 372.0,126.8 378.0,126.5 381.0,123.7 382.0,121.9 384.0,120.8 385.0,120.8 386.2,122.0 386.2,125.0 379.0,132.2 373.0,132.5 369.0,134.2ZM399.0,133.2 396.0,133.2 394.0,132.2 392.8,131.0 391.8,129.0 391.7,127.0 391.8,126.0 394.0,123.8 396.0,123.8 398.0,124.8 399.2,126.0 400.2,128.0 400.3,131.0 400.2,132.0 399.0,133.2ZM293.0,138.2 291.0,138.2 288.8,136.0 288.8,134.0 291.0,131.8 301.0,126.8 303.0,126.8 305.2,129.0 305.2,130.0 303.0,132.2 298.0,134.5 293.0,138.2ZM273.0,135.2 268.0,135.3 267.6,135.0 267.3,131.0 268.0,127.8 273.0,127.8 275.2,130.0 275.2,132.0 274.2,134.0 273.0,135.2ZM433.0,135.2 427.0,135.2 424.8,133.0 424.8,131.0 428.0,127.8 433.0,127.8 433.7,131.0 433.5,134.0 433.0,135.2ZM349.0,151.2 345.0,151.2 341.8,149.0 339.8,147.0 337.8,143.0 337.5,137.0 336.7,135.0 337.0,130.9 339.0,129.8 340.0,129.8 342.2,132.0 342.5,138.0 344.5,143.0 346.0,144.5 347.2,145.0 350.2,148.0 350.2,150.0 349.0,151.2ZM316.0,137.2 313.0,137.3 310.0,136.2 308.8,135.0 308.8,132.0 310.0,130.8 311.0,130.7 315.0,130.8 317.0,131.9 318.2,134.0 318.2,135.0 316.0,137.2ZM325.0,136.2 322.0,136.2 320.8,135.0 320.8,133.0 323.0,130.8 324.0,130.8 326.2,133.0 326.2,135.0 325.0,136.2ZM282.0,138.2 279.0,138.1 277.8,136.0 277.8,134.0 280.0,131.8 282.0,131.8 284.2,134.0 284.2,136.0 282.0,138.2ZM364.0,144.1 361.0,144.2 354.0,139.5 349.0,139.1 348.9,136.0 352.0,134.5 355.0,131.8 357.0,131.8 359.2,134.0 360.5,137.0 362.2,138.0 365.2,141.0 365.2,142.0 364.0,144.1ZM391.0,140.2 387.0,140.2 385.8,139.0 385.8,134.0 387.0,132.8 390.0,132.8 392.2,135.0 392.2,139.0 391.0,140.2ZM408.0,142.2 407.0,142.2 404.9,141.0 404.0,138.0 404.8,135.0 406.0,133.8 409.0,133.7 411.0,134.5 414.0,134.8 415.0,135.5 421.1,136.0 421.2,139.0 420.0,140.2 416.0,140.3 414.0,139.6 411.0,140.5 408.0,142.2ZM332.0,141.2 329.0,141.2 327.8,140.0 327.8,137.0 329.0,135.8 332.0,135.8 333.2,137.0 333.2,140.0 332.0,141.2ZM379.0,143.2 373.0,143.2 371.8,142.0 371.8,139.0 373.0,137.8 376.0,137.5 377.0,136.8 378.0,136.8 380.0,137.8 381.2,139.0 381.2,141.0 379.0,143.2ZM313.0,166.2 309.0,166.2 307.8,165.0 307.7,164.0 308.8,161.0 313.5,156.0 314.5,152.0 313.8,151.0 313.5,149.0 311.0,146.5 306.0,146.3 304.0,145.5 300.8,145.0 298.8,143.0 298.7,142.0 298.8,141.0 301.0,138.8 304.0,138.8 307.0,140.5 309.0,140.8 314.0,142.8 317.0,145.8 318.2,148.0 318.5,151.0 319.3,153.0 319.2,155.0 316.5,160.0 316.2,162.0 315.2,164.0 313.0,166.2ZM272.0,144.2 268.0,144.3 267.6,144.0 267.6,140.0 270.0,139.6 272.2,140.0 273.2,141.0 273.3,142.0 273.2,143.0 272.0,144.2ZM432.0,144.2 427.0,144.1 426.0,142.0 426.9,140.0 430.0,139.6 432.2,140.0 433.2,141.0 433.4,142.0 433.2,143.0 432.0,144.2ZM396.0,157.2 394.0,157.2 391.8,156.0 389.8,153.0 389.8,151.0 391.8,149.0 393.5,148.0 394.5,146.0 394.8,142.0 395.8,141.0 400.0,140.8 401.2,142.0 402.2,144.0 402.2,146.0 398.5,150.0 398.2,154.0 397.2,156.0 396.0,157.2ZM291.0,149.2 285.0,149.3 283.0,148.5 280.0,148.2 277.0,145.0 277.9,143.0 279.0,142.7 282.0,142.7 285.0,143.6 288.0,143.5 290.0,142.7 292.0,142.8 293.2,144.0 293.3,146.0 293.2,147.0 291.0,149.2ZM329.0,157.2 328.0,157.2 325.8,155.0 325.5,152.0 323.5,148.0 321.8,146.0 321.8,144.0 323.0,142.8 325.0,142.8 327.0,144.5 328.0,144.8 333.2,150.0 333.2,153.0 332.2,155.0 331.0,156.2 329.0,157.2ZM409.0,158.2 405.8,158.0 403.8,156.0 404.0,153.8 406.0,151.8 409.7,150.0 411.0,147.8 414.0,144.8 420.0,144.9 420.3,146.0 420.1,149.0 418.0,150.2 414.0,150.5 413.3,151.0 411.5,153.0 411.2,156.0 409.0,158.2ZM374.0,155.2 371.0,155.2 367.0,151.2 366.8,149.0 367.8,148.0 372.0,147.8 375.0,149.4 378.0,148.5 381.0,145.8 384.1,146.0 385.0,148.0 384.0,150.1 374.0,155.2ZM268.0,158.2 267.2,153.0 267.8,149.0 272.0,148.8 273.2,150.0 273.2,152.0 269.0,156.3 268.0,158.2ZM369.0,165.2 364.0,165.3 362.0,164.5 355.0,164.2 352.8,162.0 352.7,157.0 353.5,155.0 353.8,152.0 357.0,148.8 360.0,148.8 361.2,150.0 361.2,154.0 359.5,157.0 359.5,158.0 361.3,160.0 362.0,160.5 364.0,160.6 366.0,159.8 369.0,159.7 370.0,159.8 371.2,161.0 371.2,163.0 369.0,165.2ZM425.0,161.2 422.0,161.2 420.0,159.2 419.8,155.0 424.0,150.8 428.0,148.8 432.0,148.8 433.2,150.0 433.2,152.0 425.0,161.2ZM296.0,158.2 294.0,158.2 291.8,156.0 291.8,153.0 294.0,150.8 296.0,150.8 298.2,153.0 298.2,156.0 296.0,158.2ZM304.0,160.2 303.0,160.2 301.8,159.0 301.7,155.0 302.9,152.0 305.0,151.0 307.1,152.0 307.3,156.0 307.0,157.2 304.0,160.2ZM343.0,161.2 337.0,161.2 335.8,160.0 335.8,157.0 338.0,154.8 340.0,153.8 342.0,153.8 344.0,154.8 345.2,156.0 345.3,158.0 345.2,159.0 343.0,161.2ZM287.0,169.2 286.0,169.2 284.8,168.0 284.5,162.0 283.7,161.0 280.0,159.5 277.0,159.2 275.8,158.0 275.8,156.0 277.0,154.8 285.0,154.8 289.2,159.0 289.3,162.0 288.5,164.0 288.2,168.0 287.0,169.2ZM382.0,163.2 378.8,163.0 376.8,161.0 376.8,159.0 378.8,157.0 382.0,154.8 385.0,154.8 386.2,156.0 386.2,159.0 382.0,163.2ZM404.0,166.2 402.0,166.2 400.8,165.0 400.8,162.0 402.0,160.8 405.1,161.0 405.2,165.0 404.0,166.2ZM328.0,193.2 323.0,193.7 320.0,193.5 318.7,193.0 320.0,191.8 323.0,190.5 324.5,189.0 324.6,185.0 323.7,182.0 323.7,177.0 324.5,175.0 324.8,171.0 325.6,169.0 324.8,166.0 325.5,165.0 326.0,162.8 327.0,161.8 329.0,161.7 330.0,161.8 331.2,163.0 331.3,167.0 328.5,173.0 328.4,179.0 328.5,180.0 330.2,183.0 330.3,189.0 330.2,190.0 328.0,193.2ZM395.0,168.2 391.0,168.2 389.8,167.0 389.8,164.0 392.0,161.8 395.0,161.8 396.2,163.0 396.2,167.0 395.0,168.2ZM410.0,174.2 408.0,174.2 406.8,173.0 406.8,170.0 408.5,168.0 409.8,165.0 412.0,161.9 416.0,161.8 417.2,163.0 417.2,165.0 412.1,173.0 410.0,174.2ZM278.0,171.2 272.0,171.2 269.8,169.0 269.8,166.0 271.0,164.8 274.0,163.7 279.0,165.9 279.2,170.0 278.0,171.2ZM296.0,180.2 294.0,180.2 291.0,178.5 290.0,178.4 286.0,178.5 284.0,179.3 281.0,179.2 279.8,178.0 279.8,176.0 281.0,174.8 282.0,174.7 285.0,174.8 287.0,175.6 289.0,175.5 292.5,172.0 292.8,170.0 294.7,167.0 297.0,164.8 299.0,163.8 300.0,163.8 301.2,165.0 301.2,167.0 298.5,171.0 298.2,178.0 296.0,180.2ZM350.0,169.2 348.0,169.2 346.8,168.0 346.8,165.0 348.0,163.8 350.0,163.8 351.2,165.0 351.2,168.0 350.0,169.2ZM433.0,171.3 432.0,171.2 430.7,170.0 429.8,169.0 429.7,168.0 430.0,165.8 433.0,163.8 433.5,165.0 433.8,168.0 433.6,170.0 433.0,171.3ZM321.0,167.1 319.0,167.2 318.0,166.0 320.0,164.0 321.2,165.0 321.0,167.1ZM385.0,170.2 382.0,170.2 380.8,169.0 380.8,167.0 382.0,165.8 385.0,165.8 386.2,167.0 386.2,169.0 385.0,170.2ZM337.0,180.2 336.0,180.2 333.8,178.0 333.8,172.0 335.8,168.0 336.8,167.0 340.0,166.8 341.2,168.0 341.2,171.0 338.5,176.0 338.2,179.0 337.0,180.2ZM422.0,178.2 418.8,178.0 417.8,177.0 417.7,174.0 419.0,169.8 421.0,167.8 423.0,167.7 424.0,167.8 425.2,169.0 425.3,174.0 425.0,175.2 422.0,178.2ZM370.0,176.2 368.0,176.2 366.7,175.0 365.8,174.0 365.8,172.0 368.0,169.8 372.0,168.7 375.0,168.8 376.2,170.0 376.2,172.0 374.0,174.2 370.0,176.2ZM318.0,176.2 315.0,176.2 313.8,175.0 313.8,172.0 315.0,170.8 318.0,170.8 319.2,172.0 319.2,175.0 318.0,176.2ZM378.0,193.4 375.0,193.8 372.0,193.4 371.5,190.0 370.5,188.0 369.0,186.5 368.0,186.2 366.0,184.5 361.0,183.2 354.8,180.0 352.8,177.0 352.7,173.0 353.0,171.8 354.0,170.8 357.0,170.8 359.2,173.0 359.5,176.0 361.0,178.5 363.0,179.5 366.0,179.8 367.0,180.5 369.0,180.8 372.0,183.5 373.2,184.0 377.2,188.0 378.3,191.0 378.0,193.4ZM394.0,179.2 392.0,179.2 390.7,178.0 389.8,177.0 389.8,175.0 392.0,172.8 396.0,170.8 400.0,170.8 401.2,172.0 401.2,174.0 398.0,177.2 394.0,179.2ZM309.0,187.2 306.0,187.2 304.8,186.0 304.6,178.0 303.8,176.0 303.7,174.0 304.0,172.8 306.0,171.0 309.0,172.7 311.2,176.0 311.2,185.0 309.0,187.2ZM346.0,178.2 345.0,178.2 344.0,177.3 342.8,176.0 342.8,175.0 345.0,172.8 346.0,172.7 347.2,173.0 348.2,174.0 348.3,175.0 348.2,176.0 346.0,178.2ZM384.0,183.2 381.0,184.0 379.0,183.2 376.8,181.0 376.8,178.0 380.0,174.8 382.0,174.8 385.2,178.0 385.2,182.0 384.0,183.2ZM273.0,185.2 270.0,185.2 268.8,184.0 268.7,183.0 268.8,178.0 271.0,175.8 272.0,175.7 274.0,175.8 275.2,177.0 275.3,178.0 275.2,183.0 273.0,185.2ZM433.0,185.2 430.0,185.2 428.8,184.0 428.7,183.0 428.8,178.0 431.0,175.8 432.0,175.7 433.0,175.7 433.6,177.0 433.7,183.0 433.0,185.2ZM394.0,193.2 393.0,193.2 391.0,192.1 390.7,191.0 390.8,187.0 391.8,185.0 393.0,183.8 397.0,181.8 399.0,181.5 400.0,180.8 404.0,179.7 410.0,179.7 411.0,179.8 412.2,181.0 412.2,184.0 411.0,185.2 401.0,185.4 398.0,186.5 395.2,192.0 394.0,193.2ZM317.0,188.2 316.0,188.2 314.8,187.0 314.7,185.0 314.8,184.0 315.8,183.0 317.0,182.7 318.2,183.0 319.2,184.0 319.3,185.0 319.2,186.0 317.0,188.2ZM364.0,193.3 359.0,193.5 358.0,193.2 357.0,191.5 355.0,190.5 352.0,190.2 350.0,189.4 347.0,189.5 346.0,190.2 343.0,190.5 341.0,191.5 339.0,193.2 338.0,193.4 337.0,193.2 336.0,192.2 335.7,191.0 336.0,189.8 339.0,187.7 342.8,183.0 346.0,182.7 349.0,183.8 353.0,186.5 356.0,186.8 360.0,188.8 364.3,193.0 364.0,193.3ZM425.0,193.2 421.0,193.2 418.8,191.0 416.7,186.0 416.8,184.0 418.0,182.8 419.0,182.8 425.2,188.0 426.3,191.0 426.2,192.0 425.0,193.2ZM283.0,193.1 280.0,193.5 277.9,193.0 277.8,186.0 280.0,183.8 283.0,183.8 284.2,185.0 285.2,187.0 284.2,191.0 283.0,193.1ZM300.0,193.1 296.0,193.4 294.0,192.5 291.0,192.2 287.8,189.0 287.8,188.0 290.0,185.8 294.0,185.8 296.0,187.5 299.0,188.8 300.0,189.8 300.3,191.0 300.0,193.1ZM414.0,193.4 411.0,193.7 408.7,193.0 408.8,192.0 410.0,190.7 411.0,189.8 412.0,189.8 414.2,192.0 414.0,193.4ZM312.0,193.3 309.0,193.6 305.8,193.0 308.0,191.8 310.0,191.7 311.2,192.0 312.3,193.0 312.0,193.3ZM388.0,193.3 385.0,193.6 382.8,193.0 384.0,191.8 386.0,191.7 387.2,192.0 388.3,193.0 388.0,193.3ZM404.0,193.1 401.0,193.5 399.7,193.0 401.0,191.8 402.0,191.8 404.0,193.1Z" fill-rule="evenodd"/>
<clipPath id="cp_bp2"><rect x="271" y="31" width="160" height="160"/></clipPath>
<clipPath id="ci_bp2"><use href="#bp2"/></clipPath>
<filter id="bf2" x="260" y="20" width="180" height="180" filterUnits="userSpaceOnUse"><feGaussianBlur stdDeviation="0.9"/></filter>
<path id="bp3" d="M501.0,32.4 500.0,32.8 499.0,32.5 497.1,31.0 496.6,29.0 497.2,27.0 499.0,26.4 501.8,27.0 501.8,31.0 501.0,32.4ZM526.0,27.5 525.0,27.8 523.5,27.0 526.0,26.7 526.5,27.0 526.0,27.5ZM543.0,29.8 540.0,29.8 536.0,28.5 534.5,27.0 537.0,26.4 543.0,26.7 543.8,28.0 543.8,29.0 543.0,29.8ZM564.0,27.4 563.0,27.8 561.6,27.0 564.0,26.7 564.4,27.0 564.0,27.4ZM602.0,33.5 600.0,33.8 599.0,33.5 597.6,32.0 597.6,31.0 598.5,29.0 600.5,27.0 602.0,26.5 605.0,26.5 605.9,27.0 605.5,29.0 604.5,31.0 602.0,33.5ZM624.0,30.5 622.0,30.8 621.0,30.4 620.2,29.0 620.2,27.0 623.0,26.4 625.5,27.0 625.8,28.0 625.5,29.0 624.0,30.5ZM578.0,36.5 574.0,36.8 572.6,36.0 571.2,33.0 571.2,30.0 571.5,29.0 573.0,27.6 574.0,27.6 578.0,31.4 581.8,34.0 581.8,35.0 581.0,35.8 578.0,36.5ZM638.0,30.4 637.0,30.8 635.6,30.0 635.2,29.0 636.0,27.6 637.0,27.2 638.4,28.0 638.8,29.0 638.0,30.4ZM591.0,33.4 589.0,33.8 587.6,33.0 587.2,30.0 588.0,29.1 590.0,28.6 591.5,30.0 591.8,32.0 591.0,33.4ZM484.0,36.4 483.0,36.4 482.0,35.5 481.6,34.0 484.0,31.5 488.0,30.2 492.0,30.2 492.8,31.0 492.8,32.0 491.8,33.0 484.0,36.4ZM523.0,35.4 521.0,35.9 517.0,35.5 514.5,33.0 514.2,32.0 514.6,31.0 516.0,30.2 519.0,30.2 522.0,31.5 523.5,33.0 523.8,34.0 523.0,35.4ZM531.0,40.4 530.0,40.8 529.0,40.4 528.6,39.0 531.6,36.0 533.0,32.5 535.0,31.2 536.0,31.5 537.5,33.0 537.8,34.0 537.4,35.0 536.0,35.8 533.0,36.4 532.0,37.7 531.0,40.4ZM551.0,36.4 548.0,36.8 547.2,36.0 547.2,34.0 548.0,32.6 550.0,31.7 551.8,33.0 551.8,35.0 551.0,36.4ZM613.0,34.4 611.0,34.8 610.2,34.0 610.2,33.0 611.0,31.6 612.0,31.2 613.4,32.0 613.8,33.0 613.0,34.4ZM644.0,36.4 643.0,36.4 642.0,35.5 641.6,34.0 644.0,31.5 644.6,34.0 644.0,36.4ZM634.0,38.4 631.0,38.8 629.0,37.9 627.5,36.0 627.2,35.0 627.5,34.0 629.0,32.5 630.0,32.2 632.0,32.5 634.5,35.0 634.8,36.0 634.8,37.0 634.0,38.4ZM508.0,38.4 506.0,38.8 504.6,38.0 504.2,35.0 505.0,33.6 507.0,33.2 508.4,34.0 508.8,37.0 508.0,38.4ZM562.0,38.5 559.0,38.8 557.6,38.0 557.2,35.0 558.0,33.6 559.0,33.2 565.0,33.2 566.4,34.0 566.8,36.0 566.4,37.0 565.0,37.8 563.0,37.9 562.0,38.5ZM621.0,38.4 619.0,38.8 618.2,38.0 618.2,37.0 619.0,35.6 620.0,35.2 621.4,36.0 621.8,37.0 621.0,38.4ZM595.0,42.5 594.0,42.8 586.0,42.8 585.2,42.0 585.2,41.0 585.6,40.0 587.0,39.2 592.0,39.1 595.0,38.2 596.4,39.0 596.8,40.0 596.8,41.0 595.0,42.5ZM611.0,43.5 609.0,43.8 607.5,43.0 606.1,41.0 605.7,40.0 606.1,39.0 607.0,38.2 609.0,38.1 611.5,39.0 612.8,41.0 612.5,42.0 611.0,43.5ZM515.0,42.4 514.0,42.4 512.6,41.0 513.0,39.6 514.0,39.2 515.4,40.0 515.8,41.0 515.0,42.4ZM541.0,42.4 539.0,42.8 538.0,42.4 537.2,41.0 537.6,40.0 539.0,39.2 541.0,39.6 541.8,41.0 541.0,42.4ZM479.0,48.5 478.4,46.0 479.0,44.1 481.0,43.2 483.0,43.1 489.0,40.2 490.4,41.0 490.8,43.0 490.5,44.0 489.0,45.5 484.0,45.9 479.0,48.5ZM499.0,44.4 498.0,44.4 496.2,43.0 496.6,41.0 498.0,40.2 500.0,40.6 500.8,42.0 500.8,43.0 499.0,44.4ZM524.0,44.4 523.0,44.8 521.6,44.0 521.2,43.0 522.0,41.6 523.0,41.2 524.4,42.0 524.8,43.0 524.0,44.4ZM554.0,46.4 551.0,46.8 548.0,45.4 547.2,44.0 547.6,43.0 551.0,41.7 554.0,42.2 555.3,44.0 554.0,46.4ZM612.0,66.5 609.0,66.9 607.0,66.5 603.5,63.0 603.2,61.0 604.5,58.0 609.0,53.5 615.0,49.4 623.0,42.5 624.0,42.2 625.0,42.5 626.4,44.0 626.4,45.0 625.0,46.5 619.0,50.6 617.0,52.5 611.0,55.5 608.0,58.9 608.0,61.0 609.0,62.0 613.0,62.1 615.0,61.3 615.8,62.0 615.5,64.0 614.0,65.5 612.0,66.5ZM639.0,48.5 637.0,48.9 635.0,48.4 634.2,47.0 634.6,45.0 636.0,44.2 639.0,44.1 644.0,42.5 644.5,44.0 644.0,45.9 639.0,48.5ZM564.0,50.5 562.0,50.8 561.0,50.4 560.2,49.0 560.6,48.0 565.0,46.2 567.0,46.1 574.0,43.2 575.0,43.2 576.4,45.0 576.4,46.0 575.0,47.5 571.0,48.8 567.0,48.9 564.0,50.5ZM532.0,46.2 531.6,45.0 532.0,44.8 532.0,46.2ZM500.0,55.5 497.0,55.8 494.0,54.4 492.6,52.0 492.6,51.0 494.0,49.6 495.0,49.6 498.0,51.1 502.0,51.1 503.4,50.0 506.0,46.1 508.0,45.6 508.8,47.0 508.5,50.0 504.0,53.5 500.0,55.5ZM515.0,48.3 513.7,48.0 514.0,46.7 515.3,47.0 515.0,48.3ZM542.0,50.4 541.0,50.8 539.0,50.4 538.2,49.0 538.6,48.0 540.0,47.2 542.0,47.6 542.8,49.0 542.0,50.4ZM594.0,53.5 592.0,53.9 590.0,53.4 589.2,52.0 589.6,51.0 592.0,49.5 600.0,47.2 604.0,47.2 604.8,48.0 604.8,49.0 604.0,49.8 598.0,50.9 594.0,53.5ZM522.0,54.5 521.0,54.8 520.0,54.5 518.5,53.0 518.2,52.0 518.5,51.0 520.0,49.5 523.0,48.2 524.4,49.0 525.3,51.0 524.4,53.0 522.0,54.5ZM576.0,61.4 575.0,61.4 573.5,60.0 573.2,59.0 573.5,57.0 582.0,48.5 583.0,48.2 584.0,48.5 585.4,50.0 585.4,51.0 583.0,53.5 581.0,54.6 579.6,56.0 577.5,60.0 576.0,61.4ZM558.0,61.4 557.0,61.8 556.0,61.4 555.2,60.0 555.1,58.0 554.5,57.0 549.3,53.0 549.5,52.0 551.0,50.5 552.0,50.2 554.0,51.5 555.5,55.0 558.5,58.0 558.8,60.0 558.0,61.4ZM534.0,55.4 533.0,55.8 531.0,55.5 529.5,54.0 529.2,53.0 529.6,52.0 531.0,51.2 534.0,51.6 534.8,53.0 534.8,54.0 534.0,55.4ZM628.0,61.4 626.0,61.9 624.0,61.4 623.2,60.0 623.2,59.0 626.5,53.0 628.0,51.5 630.0,51.2 630.8,52.0 630.8,55.0 629.5,59.0 628.0,61.4ZM487.0,62.5 486.0,62.8 485.0,62.5 483.5,61.0 482.4,58.0 479.2,55.0 479.2,54.0 480.0,53.2 482.0,53.5 484.0,55.4 487.0,56.5 488.5,58.0 488.8,60.0 488.5,61.0 487.0,62.5ZM644.0,61.5 642.4,58.0 639.2,55.0 639.2,54.0 640.0,53.2 642.0,53.5 644.3,56.0 644.5,60.0 644.0,61.5ZM513.0,60.8 511.0,60.5 509.5,59.0 509.2,57.0 510.0,55.6 512.0,55.2 513.4,56.0 513.8,60.0 513.0,60.8ZM544.0,58.6 542.0,58.8 541.0,58.4 540.2,57.0 540.6,56.0 542.0,55.2 543.0,55.2 544.4,57.0 544.0,58.6ZM567.0,59.5 566.0,59.8 565.0,59.4 564.2,58.0 564.6,56.0 566.0,55.2 568.0,55.6 568.8,57.0 568.5,58.0 567.0,59.5ZM598.0,59.7 597.0,59.7 596.3,59.0 597.0,57.6 598.4,58.0 598.7,59.0 598.0,59.7ZM531.0,65.5 529.0,65.8 525.0,63.9 520.0,63.4 519.2,62.0 519.6,60.0 521.0,59.2 522.0,59.2 526.0,62.1 527.0,62.2 529.0,62.1 532.0,60.2 533.0,60.6 533.8,62.0 533.5,63.0 531.0,65.5ZM541.0,69.5 538.0,69.8 537.2,69.0 537.6,66.0 542.0,63.4 545.0,60.6 547.0,61.6 547.8,63.0 547.5,65.0 546.0,66.5 541.0,69.5ZM637.0,62.7 635.6,62.0 635.3,61.0 636.0,60.3 637.0,60.2 637.8,61.0 637.7,62.0 637.0,62.7ZM496.0,66.8 493.0,66.4 492.2,65.0 492.5,63.0 494.0,61.5 495.0,61.2 496.5,62.0 497.8,64.0 497.0,65.8 496.0,66.8ZM505.0,63.4 504.0,63.8 503.0,63.4 502.3,62.0 503.0,61.3 505.0,61.6 505.4,62.0 505.0,63.4ZM593.0,73.5 591.0,73.9 589.0,73.5 587.1,72.0 586.2,70.0 586.2,65.0 587.6,62.0 589.0,61.2 590.0,61.2 590.8,62.0 590.9,66.0 593.0,68.4 594.0,69.1 597.0,69.2 598.4,70.0 598.4,71.0 597.0,72.5 593.0,73.5ZM565.0,65.3 563.7,65.0 564.0,63.7 565.3,64.0 565.0,65.3ZM581.0,64.2 579.8,64.0 581.0,63.6 581.0,64.2ZM573.0,70.5 572.0,70.8 571.0,70.5 569.5,69.0 569.2,68.0 570.0,66.6 572.0,66.2 573.0,66.5 574.4,68.0 574.4,69.0 573.0,70.5ZM623.0,71.4 622.0,71.8 621.0,71.5 619.5,70.0 619.2,69.0 620.5,67.0 622.0,66.2 623.0,66.6 623.8,68.0 623.8,70.0 623.0,71.4ZM644.0,79.5 641.0,79.8 635.0,77.5 631.5,74.0 630.5,72.0 630.1,70.0 630.6,68.0 633.0,66.7 634.0,67.1 634.8,68.0 636.0,72.1 638.0,74.4 639.0,75.1 641.0,75.2 644.0,76.2 644.5,78.0 644.0,79.5ZM517.0,73.4 514.0,73.8 511.0,71.9 507.0,71.5 505.5,70.0 505.2,69.0 505.6,68.0 507.0,67.2 509.0,67.2 513.0,69.1 517.0,69.6 517.8,71.0 517.8,72.0 517.0,73.4ZM558.0,72.5 557.0,72.8 551.0,72.8 549.6,72.0 549.2,71.0 549.5,70.0 551.0,68.5 555.0,68.1 557.0,67.2 558.8,68.0 559.8,69.0 559.5,71.0 558.0,72.5ZM487.0,70.4 485.0,70.8 484.2,70.0 484.2,69.0 485.0,68.2 487.0,68.6 487.4,69.0 487.0,70.4ZM531.0,76.4 530.0,76.8 528.0,76.5 525.6,74.0 525.3,73.0 526.0,72.2 529.0,71.2 531.0,71.6 531.8,73.0 531.9,74.0 531.8,75.0 531.0,76.4ZM606.0,74.8 604.0,74.8 603.2,74.0 603.2,73.0 604.0,71.6 605.0,71.2 606.4,72.0 606.8,74.0 606.0,74.8ZM498.0,77.5 496.0,77.9 494.0,77.5 492.5,76.0 492.2,75.0 492.6,73.0 494.0,72.2 498.0,72.6 499.4,75.0 499.4,76.0 498.0,77.5ZM614.0,75.4 613.0,75.8 611.6,75.0 611.2,74.0 612.0,72.6 613.0,72.2 614.4,73.0 614.8,74.0 614.0,75.4ZM570.0,78.5 567.0,78.9 565.0,78.5 563.5,77.0 563.2,76.0 563.5,75.0 565.0,73.6 571.0,75.2 574.0,75.1 578.0,73.2 579.0,73.2 580.4,74.0 580.8,75.0 580.5,76.0 579.0,77.5 578.0,77.8 571.0,77.9 570.0,78.5ZM484.0,79.5 481.0,79.8 479.0,78.9 478.4,77.0 479.0,75.1 481.0,75.2 485.0,76.6 485.4,78.0 484.0,79.5ZM622.0,84.4 620.0,84.8 619.0,84.4 618.2,83.0 618.5,78.0 621.0,75.8 622.8,77.0 622.8,83.0 622.0,84.4ZM538.0,83.4 537.0,83.8 536.0,83.4 535.2,82.0 535.2,78.0 536.0,76.6 537.0,76.2 538.4,77.0 539.8,80.0 538.0,83.4ZM589.0,96.5 584.0,96.8 583.2,96.0 583.2,94.0 585.0,92.5 588.0,92.1 591.0,90.1 592.1,88.0 591.1,84.0 591.2,83.0 592.0,81.6 595.0,81.1 599.0,77.6 600.0,77.6 600.8,79.0 600.5,80.0 599.0,81.5 597.0,82.5 595.9,84.0 595.5,91.0 592.0,94.5 589.0,96.5ZM557.0,83.4 554.0,83.8 551.0,82.8 548.0,83.8 545.0,83.8 544.2,83.0 544.2,80.0 545.0,78.6 546.0,78.2 549.0,80.1 550.0,80.2 554.0,80.1 556.0,79.2 557.0,79.6 557.8,81.0 557.8,82.0 557.0,83.4ZM511.0,85.4 510.0,85.8 509.0,85.5 507.5,84.0 507.2,81.0 508.0,79.6 510.0,79.2 511.4,80.0 511.8,84.0 511.0,85.4ZM519.0,87.4 518.0,87.4 516.2,86.0 516.5,82.0 519.0,79.5 521.0,79.1 523.0,79.6 523.8,81.0 522.5,84.0 519.0,87.4ZM611.0,84.5 609.0,84.8 607.6,84.0 607.2,82.0 608.0,80.6 611.0,80.2 611.9,81.0 612.4,83.0 611.0,84.5ZM581.0,89.5 579.0,89.8 578.0,89.4 577.2,88.0 577.2,87.0 580.0,82.6 583.0,81.2 584.0,81.6 584.8,83.0 582.5,88.0 581.0,89.5ZM634.0,92.4 632.0,92.8 631.0,92.4 630.2,91.0 630.1,89.0 628.2,84.0 628.5,83.0 630.0,81.6 632.0,82.1 634.5,85.0 634.8,86.0 634.8,91.0 634.0,92.4ZM490.0,86.5 488.0,86.8 486.6,86.0 486.2,84.0 487.0,82.6 491.0,82.2 491.8,83.0 491.8,85.0 490.0,86.5ZM494.0,102.8 492.0,102.5 490.5,101.0 487.5,96.0 487.2,95.0 487.5,94.0 490.0,91.5 496.0,88.5 501.0,83.6 502.0,83.6 503.7,85.0 502.9,87.0 500.0,89.5 495.0,91.5 492.9,94.0 492.9,97.0 494.8,100.0 494.8,102.0 494.0,102.8ZM530.0,94.4 529.0,94.4 527.5,93.0 527.1,91.0 528.6,85.0 530.0,84.3 530.8,85.0 530.9,91.0 530.8,93.0 530.0,94.4ZM566.0,89.5 564.0,89.8 563.0,89.4 562.6,88.0 564.0,86.5 567.0,86.1 571.0,84.2 572.4,85.0 572.0,86.4 569.0,86.9 566.0,89.5ZM605.0,88.4 604.0,88.8 603.0,88.4 602.6,87.0 604.0,86.2 605.0,86.6 605.4,87.0 605.0,88.4ZM563.0,108.4 562.0,108.8 560.6,108.0 560.2,107.0 560.1,102.0 555.5,95.0 554.2,92.0 554.2,91.0 555.0,89.6 556.0,89.2 558.0,89.6 559.5,92.0 561.9,100.0 563.8,104.0 563.8,107.0 563.0,108.4ZM616.0,93.4 614.0,93.9 611.0,93.4 610.2,92.0 610.6,90.0 612.0,89.2 616.0,89.6 616.8,91.0 616.8,92.0 616.0,93.4ZM549.0,99.4 548.0,99.4 546.0,98.5 542.0,95.9 537.0,95.4 536.2,94.0 536.6,92.0 540.0,90.2 543.0,90.5 546.0,92.5 549.5,96.0 549.8,98.0 549.0,99.4ZM481.0,99.4 480.0,99.8 479.0,99.4 478.5,98.0 478.7,93.0 480.0,92.2 481.4,93.0 482.4,95.0 481.8,98.0 481.0,99.4ZM624.0,96.4 623.0,96.8 621.6,96.0 621.2,94.0 622.0,92.6 623.0,92.2 624.4,93.0 624.8,95.0 624.0,96.4ZM641.0,99.4 640.0,99.8 639.0,99.4 638.2,98.0 638.2,94.0 639.0,92.6 640.0,92.2 641.4,93.0 642.4,95.0 641.8,98.0 641.0,99.4ZM505.0,101.5 503.0,101.8 502.0,101.4 501.2,100.0 501.5,99.0 503.0,97.5 509.0,93.5 511.0,93.2 512.0,93.6 512.8,95.0 512.4,97.0 509.0,99.5 505.0,101.5ZM526.0,103.4 524.0,103.8 522.6,103.0 520.4,99.0 517.5,96.0 517.2,95.0 518.0,93.6 519.0,93.2 520.0,93.5 523.0,97.5 526.4,100.0 526.8,102.0 526.0,103.4ZM574.0,99.8 570.0,99.8 569.0,99.4 568.2,98.0 568.6,96.0 572.0,94.7 574.0,95.6 574.8,97.0 574.9,98.0 574.8,99.0 574.0,99.8ZM606.0,98.4 604.0,98.9 601.0,98.4 600.2,97.0 600.6,95.0 602.0,94.2 605.0,94.5 606.5,96.0 606.8,97.0 606.0,98.4ZM639.0,110.4 637.0,110.8 635.6,110.0 634.4,108.0 629.5,103.0 629.2,101.0 630.0,100.1 632.0,99.6 633.5,101.0 634.6,103.0 639.5,108.0 639.8,109.0 639.0,110.4ZM581.0,103.4 580.0,103.8 578.0,103.4 577.2,102.0 577.2,101.0 578.0,100.2 581.0,100.6 581.8,102.0 581.0,103.4ZM537.0,106.4 534.0,106.8 532.6,106.0 532.2,103.0 533.0,101.6 535.0,101.2 536.0,101.5 537.5,103.0 537.8,105.0 537.0,106.4ZM619.0,107.5 617.0,107.8 616.0,107.5 614.5,106.0 614.2,105.0 614.6,104.0 620.0,101.2 623.0,101.6 623.8,103.0 623.5,105.0 622.0,106.5 619.0,107.5ZM601.0,111.3 600.0,111.4 594.5,106.0 594.2,104.0 595.0,102.6 598.0,102.2 599.4,103.0 599.9,107.0 601.4,110.0 601.0,111.3ZM607.0,106.7 605.6,106.0 606.0,104.7 607.4,105.0 607.7,106.0 607.0,106.7ZM487.0,116.4 486.0,116.8 484.0,116.4 483.2,115.0 483.2,114.0 486.0,109.1 486.5,107.0 488.0,105.5 489.0,105.2 490.4,106.0 490.8,109.0 488.9,112.0 487.0,116.4ZM500.0,114.5 499.0,114.8 498.0,114.4 497.2,113.0 497.2,112.0 497.5,111.0 500.0,108.5 504.0,107.2 507.0,107.1 511.0,105.2 514.0,105.5 517.5,108.0 519.5,110.0 519.8,111.0 519.4,112.0 518.0,112.8 517.0,112.5 513.0,108.9 508.0,108.9 502.0,112.6 500.0,114.5ZM542.0,114.5 539.0,114.8 538.2,114.0 538.2,112.0 545.0,106.5 547.0,106.1 549.0,106.6 549.8,108.0 549.0,109.5 544.0,112.6 542.0,114.5ZM575.0,111.4 572.0,111.9 569.0,111.4 568.2,110.0 568.5,108.0 570.0,106.5 571.0,106.2 572.0,106.2 575.0,107.6 575.8,109.0 575.8,110.0 575.0,111.4ZM581.0,119.5 578.0,119.9 576.0,119.4 575.2,118.0 575.6,116.0 577.0,115.2 580.0,115.1 583.0,113.5 584.1,112.0 584.2,110.0 585.0,108.5 587.0,106.6 589.0,107.1 590.5,109.0 590.8,110.0 590.5,111.0 589.0,112.5 586.0,113.5 581.0,119.5ZM479.0,110.4 478.6,109.0 479.0,107.5 479.8,109.0 479.0,110.4ZM521.0,123.5 519.0,123.9 517.0,123.4 516.2,122.0 516.5,120.0 518.0,118.5 521.0,118.1 522.0,117.4 524.4,115.0 526.5,111.0 528.0,109.6 530.0,110.1 530.8,111.0 530.8,112.0 529.4,115.0 526.0,117.5 524.5,120.0 521.0,123.5ZM560.0,118.4 559.0,118.4 558.0,117.5 556.5,115.0 554.5,113.0 553.6,111.0 554.0,109.6 555.0,109.2 556.0,109.6 558.5,114.0 560.9,116.0 561.2,117.0 560.0,118.4ZM626.0,117.4 625.0,117.4 623.5,116.0 623.2,113.0 623.5,112.0 625.0,110.5 627.0,110.2 628.4,111.0 628.8,114.0 628.5,115.0 626.0,117.4ZM617.0,123.2 616.0,122.9 611.1,118.0 608.0,117.8 606.6,117.0 606.2,115.0 607.5,113.0 609.0,112.2 611.0,112.2 614.0,113.5 616.0,115.5 617.8,119.0 617.8,122.0 617.0,123.2ZM644.0,116.4 643.2,115.0 643.2,114.0 644.0,112.5 644.5,114.0 644.0,116.4ZM509.0,117.7 507.6,117.0 507.6,116.0 509.0,115.3 509.7,116.0 509.7,117.0 509.0,117.7ZM596.0,135.4 595.0,135.8 593.0,135.4 592.2,134.0 592.2,132.0 593.5,129.0 595.5,127.0 597.1,124.0 597.1,121.0 595.6,118.0 595.6,117.0 597.0,115.8 599.4,117.0 600.8,120.0 600.8,122.0 599.4,125.0 597.9,127.0 596.9,130.0 596.8,134.0 596.0,135.4ZM550.0,121.5 545.0,121.8 543.6,121.0 543.2,119.0 544.0,118.1 546.0,117.2 550.0,118.2 551.4,119.0 551.7,120.0 550.0,121.5ZM635.0,123.5 634.0,123.8 633.0,123.5 631.5,122.0 631.2,121.0 631.5,119.0 633.0,117.5 634.0,117.2 636.0,117.6 636.8,119.0 636.5,122.0 635.0,123.5ZM486.0,133.4 484.5,133.0 483.2,131.0 485.6,127.0 488.0,125.4 493.0,120.5 496.0,119.2 499.0,119.6 499.8,121.0 499.4,122.0 492.0,125.6 489.6,128.0 488.5,131.0 486.0,133.4ZM587.0,124.4 586.4,124.0 586.2,123.0 586.6,121.0 588.0,120.2 590.0,120.6 590.4,122.0 589.0,123.5 587.0,124.4ZM483.0,124.4 482.0,124.8 480.6,124.0 480.2,123.0 481.0,121.6 482.0,121.2 483.4,122.0 483.8,123.0 483.0,124.4ZM510.0,126.4 508.0,126.9 506.0,126.5 504.5,125.0 504.2,124.0 504.6,123.0 507.0,121.5 508.0,121.2 509.0,121.5 510.5,123.0 510.8,124.0 510.8,125.0 510.0,126.4ZM537.0,124.4 536.0,124.8 531.0,124.8 529.6,124.0 529.2,123.0 529.6,122.0 531.0,121.2 536.0,121.2 537.4,122.0 537.8,123.0 537.0,124.4ZM643.0,124.4 642.0,124.8 640.6,124.0 640.2,123.0 641.0,121.6 642.0,121.2 643.4,122.0 643.8,123.0 643.0,124.4ZM561.0,139.8 559.0,139.8 558.2,139.0 558.2,135.0 559.1,133.0 559.2,130.0 561.5,125.0 564.0,122.5 565.0,122.2 569.0,122.2 572.0,123.5 574.5,126.0 574.8,128.0 574.4,129.0 573.0,129.8 572.0,129.5 568.0,125.9 566.0,125.9 565.0,126.6 562.9,129.0 562.8,131.0 561.9,133.0 561.8,139.0 561.0,139.8ZM555.0,128.4 554.0,128.4 553.2,127.0 553.2,126.0 554.0,124.6 555.0,124.6 555.8,126.0 555.8,127.0 555.0,128.4ZM586.0,125.3 586.0,124.7 586.0,125.3ZM610.0,128.2 606.7,125.0 607.0,124.5 608.0,124.3 608.8,125.0 610.3,127.0 610.4,128.0 610.0,128.2ZM585.0,130.4 583.0,130.8 581.6,130.0 581.2,129.0 582.5,127.0 585.0,125.6 585.6,126.0 585.8,128.0 585.8,129.0 585.0,130.4ZM623.0,136.4 622.0,136.7 621.2,136.0 621.1,131.0 620.2,129.0 620.5,128.0 623.0,125.5 626.0,125.2 627.4,126.0 627.8,128.0 626.5,131.0 623.0,136.4ZM519.0,129.2 518.0,129.7 517.3,129.0 518.0,128.3 519.0,128.8 519.0,129.2ZM541.0,137.8 539.0,137.4 538.2,136.0 538.2,130.0 539.0,128.6 540.0,128.2 542.0,128.6 542.8,130.0 542.8,135.0 541.9,137.0 541.0,137.8ZM498.0,133.5 497.0,133.8 495.6,133.0 495.2,131.0 496.0,129.6 497.0,129.2 498.0,129.5 499.4,131.0 499.4,132.0 498.0,133.5ZM644.0,132.5 643.2,131.0 644.0,129.5 644.4,131.0 644.0,132.5ZM604.0,133.2 602.6,132.0 602.6,131.0 604.0,130.2 605.0,130.2 605.8,131.0 605.8,132.0 604.0,133.2ZM635.0,138.4 634.0,138.4 632.5,137.0 632.2,134.0 634.0,131.1 636.0,130.6 637.5,132.0 637.8,135.0 636.9,137.0 635.0,138.4ZM505.0,139.5 504.0,139.7 502.6,138.0 502.6,137.0 503.5,135.0 508.0,131.5 510.0,131.2 511.3,133.0 510.5,135.0 507.0,138.5 505.0,139.5ZM526.0,137.5 524.0,137.8 522.6,137.0 522.2,133.0 523.0,131.6 527.0,131.2 531.4,133.0 531.8,134.0 531.0,135.4 526.0,137.5ZM550.0,136.4 549.0,136.4 547.5,135.0 547.2,134.0 547.6,132.0 549.0,131.2 550.0,131.2 550.9,132.0 551.8,134.0 551.5,135.0 550.0,136.4ZM577.0,134.6 576.4,134.0 577.0,133.4 577.6,134.0 577.0,134.6ZM614.0,138.4 611.0,138.9 609.0,138.4 608.2,137.0 608.6,135.0 611.0,133.6 612.0,133.6 614.0,134.6 614.8,136.0 614.8,137.0 614.0,138.4ZM570.0,139.4 569.0,139.8 568.0,139.5 566.8,138.0 568.0,135.6 569.0,135.2 570.4,136.0 570.8,138.0 570.0,139.4ZM584.0,142.5 582.0,142.8 581.0,142.4 580.2,141.0 580.5,138.0 582.0,136.5 583.0,136.2 586.0,136.6 586.8,138.0 586.5,140.0 584.0,142.5ZM493.0,141.4 491.0,141.8 489.6,141.0 489.2,139.0 490.0,137.6 492.0,137.2 493.4,138.0 493.8,140.0 493.0,141.4ZM522.0,145.8 521.0,145.8 516.0,144.0 514.0,144.8 512.0,144.4 511.2,143.0 511.5,141.0 513.0,139.6 514.0,139.6 518.0,142.1 521.0,142.5 522.4,144.0 522.7,145.0 522.0,145.8ZM486.0,147.4 484.0,147.8 482.6,147.0 481.2,144.0 481.2,142.0 482.0,140.6 483.0,140.2 484.0,140.5 485.5,142.0 486.8,145.0 486.8,146.0 486.0,147.4ZM593.0,144.4 592.0,144.8 590.6,144.0 590.2,142.0 591.0,140.6 592.0,140.2 593.4,141.0 593.8,143.0 593.0,144.4ZM603.0,153.4 602.0,153.8 601.0,153.4 600.2,152.0 600.2,142.0 601.0,140.6 603.0,141.1 604.8,144.0 604.8,147.0 603.9,149.0 603.8,152.0 603.0,153.4ZM619.0,142.7 617.6,142.0 617.6,141.0 619.0,140.2 620.2,141.0 619.0,142.7ZM644.0,147.8 642.6,147.0 641.2,144.0 641.6,141.0 643.0,140.2 644.0,140.5 644.5,142.0 644.6,146.0 644.0,147.8ZM639.0,152.4 638.0,152.8 637.0,152.5 634.5,150.0 633.0,147.5 629.0,145.4 627.6,143.0 627.6,142.0 629.0,141.2 630.0,141.2 631.5,142.0 634.0,145.5 639.5,150.0 639.8,151.0 639.0,152.4ZM530.0,148.5 528.0,148.8 527.2,148.0 527.2,146.0 528.5,144.0 531.0,142.5 533.0,142.2 535.0,143.1 537.0,143.2 538.0,143.6 539.2,145.0 538.0,145.8 535.0,145.9 530.0,148.5ZM565.0,151.5 563.0,151.8 561.6,151.0 561.2,149.0 562.0,147.6 567.0,147.1 570.0,145.5 573.0,142.5 574.0,142.2 575.4,143.0 575.8,145.0 575.5,146.0 574.0,147.5 571.0,147.9 565.0,151.5ZM502.0,146.8 498.0,146.8 497.3,146.0 497.6,145.0 499.0,143.5 502.0,143.2 503.3,145.0 502.0,146.8ZM543.0,165.4 541.0,165.8 540.0,165.4 539.2,164.0 539.2,162.0 540.1,160.0 539.2,157.0 539.5,152.0 542.0,149.5 545.1,148.0 550.0,144.5 552.0,143.6 553.0,143.6 555.0,144.6 555.8,146.0 555.5,147.0 553.0,149.5 548.0,150.9 544.0,152.9 541.9,155.0 541.9,159.0 543.8,163.0 543.8,164.0 543.0,165.4ZM612.0,149.4 611.0,149.4 609.2,148.0 609.6,146.0 611.0,145.2 612.0,145.2 613.4,147.0 613.4,148.0 612.0,149.4ZM633.0,163.4 632.0,163.8 631.0,163.5 629.5,162.0 628.1,156.0 626.0,153.5 623.0,151.9 620.0,151.5 617.6,150.0 617.2,149.0 618.0,147.6 620.0,147.1 622.0,147.5 625.5,150.0 632.0,156.5 633.8,160.0 633.8,162.0 633.0,163.4ZM484.0,163.5 482.0,163.8 481.0,163.4 480.2,162.0 480.5,160.0 482.0,158.5 485.0,158.1 486.0,157.5 489.5,154.0 492.1,150.0 493.2,149.0 495.0,148.3 495.8,149.0 495.5,151.0 486.5,160.0 485.5,162.0 484.0,163.5ZM585.0,153.5 581.0,153.8 580.2,153.0 580.5,150.0 582.0,148.5 586.0,148.2 586.8,149.0 586.5,152.0 585.0,153.5ZM594.0,150.3 592.7,150.0 593.0,148.7 594.3,149.0 594.0,150.3ZM479.0,152.4 478.6,151.0 479.0,149.5 479.8,151.0 479.0,152.4ZM504.0,156.5 503.0,156.8 501.6,156.0 501.2,155.0 501.6,153.0 505.0,150.5 507.0,150.2 508.0,150.6 508.8,152.0 508.5,153.0 506.0,155.5 504.0,156.5ZM519.0,167.5 517.0,167.8 516.0,167.5 513.5,165.0 513.2,164.0 513.2,157.0 514.5,153.0 516.0,151.5 518.0,151.2 519.0,151.6 519.8,153.0 519.5,155.0 517.6,157.0 516.0,160.0 516.6,161.0 519.0,163.1 521.0,163.1 522.0,162.6 528.0,155.5 531.0,155.2 532.4,156.0 532.8,157.0 532.5,158.0 531.0,159.9 525.8,162.0 522.0,164.4 519.0,167.5ZM557.0,163.4 555.0,163.9 553.0,163.5 550.5,161.0 549.8,159.0 551.0,157.6 552.0,157.6 555.0,159.0 559.0,155.5 560.0,155.2 561.0,155.5 562.2,157.0 561.4,159.0 559.0,160.6 557.0,163.4ZM573.0,159.4 571.0,159.9 569.0,159.4 568.2,158.0 568.6,156.0 570.0,155.2 573.0,155.6 573.8,157.0 573.8,158.0 573.0,159.4ZM613.0,163.4 612.0,163.4 610.0,162.5 608.5,161.0 608.2,157.0 609.0,155.6 610.0,155.2 611.0,155.5 612.5,157.0 613.8,160.0 613.8,162.0 613.0,163.4ZM620.0,160.4 619.0,160.4 617.6,159.0 617.6,158.0 619.0,156.6 620.0,156.6 621.4,158.0 621.4,159.0 620.0,160.4ZM589.0,167.2 587.5,166.0 587.2,165.0 587.2,159.0 588.0,157.6 590.0,157.2 590.8,158.0 590.9,162.0 591.8,165.0 591.0,166.4 589.0,167.2ZM599.0,163.5 597.0,163.8 596.0,162.8 595.2,161.0 595.2,160.0 596.0,158.6 597.0,158.2 599.0,158.5 601.5,161.0 599.0,163.5ZM644.0,163.5 642.0,163.8 641.0,163.4 640.2,162.0 640.5,160.0 642.0,158.5 643.0,158.2 644.0,158.1 644.5,159.0 644.5,162.0 644.0,163.5ZM495.0,166.5 494.0,166.8 493.0,166.5 491.6,165.0 491.6,164.0 492.5,162.0 494.0,160.5 496.0,159.6 497.0,159.6 498.8,161.0 498.8,163.0 497.5,165.0 495.0,166.5ZM581.0,162.4 580.0,162.8 578.6,162.0 578.2,161.0 579.0,159.6 580.0,159.2 581.4,160.0 581.8,161.0 581.0,162.4ZM506.0,163.7 505.3,163.0 506.0,161.7 506.7,163.0 506.0,163.7ZM534.0,167.8 533.0,167.8 532.2,167.0 532.2,166.0 533.0,164.6 534.0,164.6 534.8,166.0 534.8,167.0 534.0,167.8ZM568.0,175.8 567.0,175.8 564.0,174.4 563.2,173.0 563.2,171.0 564.0,169.6 566.1,169.0 571.0,164.6 572.0,164.6 572.8,166.0 572.5,168.0 570.0,170.9 569.5,174.0 568.0,175.8ZM624.0,168.5 619.0,168.8 618.2,168.0 618.2,167.0 620.0,165.5 624.0,164.6 625.7,166.0 625.5,167.0 624.0,168.5ZM605.0,170.4 604.0,170.8 602.6,170.0 602.2,169.0 603.0,167.6 604.0,167.2 605.4,168.0 605.8,169.0 605.0,170.4ZM479.0,173.5 478.4,171.0 479.0,168.2 480.4,169.0 480.8,171.0 479.0,173.5ZM503.0,171.4 501.0,171.8 500.0,171.4 499.2,170.0 499.6,169.0 501.0,168.2 503.0,168.2 503.8,169.0 503.8,170.0 503.0,171.4ZM578.0,181.5 577.0,181.8 576.0,181.4 575.2,180.0 575.2,179.0 577.1,175.0 578.5,170.0 580.0,168.6 581.0,168.6 582.8,170.0 582.8,171.0 579.9,177.0 579.5,180.0 578.0,181.5ZM634.0,178.5 632.0,178.9 630.0,178.4 629.2,177.0 629.5,175.0 636.0,169.5 639.0,168.2 640.0,168.6 640.8,170.0 640.5,172.0 634.0,178.5ZM510.0,171.3 508.7,171.0 509.0,169.7 510.3,170.0 510.0,171.3ZM555.0,174.4 553.0,174.9 549.0,174.5 546.6,172.0 546.6,171.0 548.0,169.2 554.0,169.2 555.0,169.6 555.8,171.0 555.9,172.0 555.8,173.0 555.0,174.4ZM490.0,183.4 488.0,183.8 487.0,183.4 486.2,182.0 486.2,172.0 487.0,170.6 488.4,171.0 489.8,175.0 489.9,178.0 490.9,181.0 490.8,182.0 490.0,183.4ZM529.0,175.4 526.0,175.8 525.0,174.8 524.2,173.0 524.5,172.0 526.0,170.5 529.0,170.2 529.8,171.0 529.8,174.0 529.0,175.4ZM613.0,175.4 611.0,175.8 609.6,175.0 609.2,172.0 610.0,170.6 612.0,170.2 613.4,171.0 613.8,174.0 613.0,175.4ZM544.0,180.4 542.0,180.8 540.0,180.5 537.5,178.0 536.2,175.0 536.2,173.0 536.7,172.0 538.0,172.1 543.5,178.0 544.4,179.0 544.0,180.4ZM586.0,184.5 585.0,184.8 583.6,184.0 583.2,183.0 583.5,182.0 590.4,175.0 592.0,172.6 594.0,171.6 595.0,171.6 595.8,173.0 595.5,175.0 589.6,181.0 588.4,183.0 586.0,184.5ZM518.0,181.4 517.0,181.8 516.0,181.5 514.5,180.0 514.2,179.0 514.2,175.0 515.0,173.6 516.0,173.2 517.4,174.0 518.8,177.0 518.8,180.0 518.0,181.4ZM496.0,177.4 495.0,177.4 493.6,176.0 494.0,174.6 496.0,174.2 496.8,175.0 496.8,176.0 496.0,177.4ZM620.0,180.3 617.6,179.0 617.1,177.0 617.2,176.0 618.0,175.1 620.0,174.2 621.4,175.0 621.9,177.0 621.8,179.0 620.0,180.3ZM599.0,181.4 598.0,181.4 597.2,180.0 597.5,177.0 599.0,175.5 600.0,175.2 602.0,175.6 602.8,177.0 602.5,178.0 601.0,180.4 599.0,181.4ZM510.0,186.4 509.0,186.4 507.0,185.4 503.5,181.0 502.6,179.0 502.6,178.0 504.0,176.2 506.0,176.5 508.5,179.0 510.8,184.0 510.8,185.0 510.0,186.4ZM564.0,187.4 563.0,187.8 561.6,187.0 561.1,184.0 558.7,179.0 560.0,177.3 561.4,178.0 562.9,183.0 564.5,185.0 564.8,186.0 564.0,187.4ZM481.0,183.4 480.0,183.8 479.0,183.4 478.6,182.0 479.0,181.1 480.0,180.8 481.0,181.5 481.4,182.0 481.0,183.4ZM641.0,183.4 640.0,183.8 639.0,183.4 638.3,182.0 640.0,180.8 641.4,182.0 641.0,183.4ZM570.0,182.7 568.7,182.0 570.0,181.3 570.7,182.0 570.0,182.7ZM613.0,186.4 611.0,185.9 609.6,184.0 609.6,183.0 611.0,181.6 613.0,182.1 614.4,184.0 614.4,185.0 613.0,186.4ZM526.0,187.5 525.0,187.8 524.0,187.5 522.5,186.0 522.2,185.0 523.0,183.5 525.0,182.2 527.0,182.6 527.8,184.0 527.5,186.0 526.0,187.5ZM555.0,186.4 551.0,186.8 549.6,186.0 549.2,185.0 550.0,183.6 552.0,182.6 553.0,182.6 555.4,184.0 555.8,185.0 555.0,186.4ZM631.0,185.3 629.7,185.0 630.0,183.7 631.3,184.0 631.0,185.3ZM543.0,189.8 540.0,189.8 536.0,188.5 533.6,186.0 533.6,185.0 535.0,184.2 537.0,184.2 541.0,185.5 543.4,187.0 543.8,189.0 543.0,189.8ZM603.0,192.3 599.0,192.5 597.6,192.0 597.6,191.0 599.0,188.5 603.0,184.5 604.0,184.2 605.4,185.0 605.8,188.0 604.5,191.0 603.0,192.3ZM501.0,192.3 498.2,192.0 496.6,190.0 497.6,186.0 499.0,185.2 501.0,185.6 501.8,187.0 501.8,191.0 501.0,192.3ZM624.0,190.5 622.0,190.8 620.6,190.0 620.2,187.0 621.0,185.6 624.0,185.2 625.0,186.2 625.8,188.0 625.5,189.0 624.0,190.5ZM578.0,192.3 575.0,192.7 572.0,192.5 571.1,192.0 571.5,189.0 573.0,187.6 574.0,187.6 578.9,192.0 578.0,192.3ZM638.0,190.4 637.0,190.8 635.6,190.0 635.2,189.0 636.0,187.6 637.0,187.2 638.4,188.0 638.8,189.0 638.0,190.4ZM591.0,192.5 589.0,192.6 587.2,192.0 587.2,190.0 589.0,188.6 590.0,188.6 591.5,190.0 591.8,191.0 591.8,192.0 591.0,192.5ZM492.0,192.4 485.0,192.5 483.5,192.0 488.0,190.2 491.0,190.2 492.0,190.2 492.8,191.0 492.8,192.0 492.0,192.4ZM522.0,192.3 517.0,192.6 514.2,192.0 514.6,191.0 516.0,190.2 519.0,190.2 522.0,191.5 522.5,192.0 522.0,192.3ZM536.0,192.3 533.5,192.0 535.0,191.2 536.5,192.0 536.0,192.3ZM550.0,192.2 549.2,192.0 550.7,192.0 550.0,192.2ZM613.0,192.3 610.6,192.0 612.0,191.2 613.4,192.0 613.0,192.3ZM644.0,192.3 643.5,192.0 644.0,191.5 644.3,192.0 644.0,192.3Z" fill-rule="evenodd"/>
<clipPath id="cp_bp3"><rect x="482" y="30" width="160" height="160"/></clipPath>
<filter id="bf_bp3_3.0" x="472" y="20" width="180" height="180" filterUnits="userSpaceOnUse"><feGaussianBlur stdDeviation="3.0"/></filter>
<filter id="bf_bp3_0.9" x="472" y="20" width="180" height="180" filterUnits="userSpaceOnUse"><feGaussianBlur stdDeviation="0.9"/></filter>
<linearGradient id="cw" x1="0" y1="1" x2="0" y2="0">
<stop offset="0" stop-color="#3b4cc0"/><stop offset="0.125" stop-color="#6282ea"/><stop offset="0.25" stop-color="#8db0fe"/>
<stop offset="0.375" stop-color="#b8d0f9"/><stop offset="0.5" stop-color="#dddcdc"/><stop offset="0.625" stop-color="#f5c4ad"/>
<stop offset="0.75" stop-color="#f49a7b"/><stop offset="0.875" stop-color="#de604d"/><stop offset="1" stop-color="#b40426"/></linearGradient>
<filter id="blur1" x="-20%" y="-20%" width="140%" height="140%"><feGaussianBlur stdDeviation="1.6"/></filter>
<filter id="blur2" x="-20%" y="-20%" width="140%" height="140%"><feGaussianBlur stdDeviation="3"/></filter>
<filter id="blur05" x="-20%" y="-20%" width="140%" height="140%"><feGaussianBlur stdDeviation="0.6"/></filter>
<radialGradient id="bub" cx="0.4" cy="0.4" r="0.65"><stop offset="0" stop-color="#ea9a78"/><stop offset="0.6" stop-color="#d8664a"/><stop offset="1" stop-color="#c0402e"/></radialGradient>
<clipPath id="cpO"><rect x="112" y="21.5" width="63" height="62"/></clipPath>
<clipPath id="cpB"><rect x="95.5" y="132.5" width="62.5" height="61.5"/></clipPath>
<clipPath id="cpG"><rect x="365.6" y="29.6" width="62.4" height="61"/></clipPath>
<radialGradient id="bgO" cx="0.5" cy="0.6" r="0.7"><stop offset="0" stop-color="#5068d0"/><stop offset="1" stop-color="#2c3aa8"/></radialGradient>

<linearGradient id="bgb" gradientUnits="userSpaceOnUse" x1="67.4" y1="0" x2="412.4" y2="0">
<stop offset="0" stop-color="#6aaed8"/><stop offset="0.03" stop-color="#a8cfe8"/><stop offset="0.08" stop-color="#dbe8f4"/>
<stop offset="0.6" stop-color="#dfe9f3"/><stop offset="0.74" stop-color="#e2dde6"/><stop offset="0.86" stop-color="#ebc9c0"/><stop offset="1" stop-color="#eaac94"/></linearGradient>
<pattern id="hR" patternUnits="userSpaceOnUse" width="2.3" height="2.3" patternTransform="rotate(45)"><rect width="2.3" height="2.3" fill="#f7dcd8"/><rect width="1.15" height="2.3" fill="#e8392c"/></pattern>
<pattern id="hLB" patternUnits="userSpaceOnUse" width="2.3" height="2.3" patternTransform="rotate(45)"><rect width="2.3" height="2.3" fill="#e6f0f8"/><rect width="0.8" height="2.3" fill="#b5d8ea"/></pattern>
<pattern id="hB" patternUnits="userSpaceOnUse" width="2.3" height="2.3" patternTransform="rotate(45)"><rect width="2.3" height="2.3" fill="#dce8f4"/><rect width="1.15" height="2.3" fill="#3f7cc0"/></pattern>
<pattern id="hW" patternUnits="userSpaceOnUse" width="2.3" height="2.3" patternTransform="rotate(45)"><rect width="0.85" height="2.3" fill="#ffffff" fill-opacity="0.7"/></pattern>
<linearGradient id="g1" x1="0" y1="0" x2="0" y2="1"><stop offset="0" stop-color="#ea3a2e"/><stop offset="0.45" stop-color="#e6918a"/><stop offset="1" stop-color="#c8c8c8"/></linearGradient>
<linearGradient id="g2" x1="0" y1="0" x2="0" y2="1"><stop offset="0" stop-color="#a51e2e"/><stop offset="0.5" stop-color="#a45a62"/><stop offset="1" stop-color="#c4c4c4"/></linearGradient>
<linearGradient id="g3" x1="0" y1="0" x2="0" y2="1"><stop offset="0" stop-color="#5a1a2a"/><stop offset="1" stop-color="#b8b8b8"/></linearGradient>
<linearGradient id="bgcT" gradientUnits="userSpaceOnUse" x1="469.8" y1="0" x2="664.5" y2="0">
<stop offset="0" stop-color="#a6c6f0"/><stop offset="0.5" stop-color="#b4d4ee"/><stop offset="1" stop-color="#c6e2ea"/></linearGradient>
<linearGradient id="bgcB" gradientUnits="userSpaceOnUse" x1="469.8" y1="0" x2="664.5" y2="0">
<stop offset="0" stop-color="#f6ded4"/><stop offset="0.5" stop-color="#f1c8b9"/><stop offset="1" stop-color="#eaae9b"/></linearGradient>
</defs>
<g clip-path="url(#cp_bp1)">
<rect x="58" y="30" width="161" height="160" fill="#2c38a4"/>
<use href="#bp1" fill="#6a82da" stroke="#6a82da" stroke-width="5" stroke-linejoin="round" opacity="0.6" filter="url(#bf_bp1_3.5)"/>
<use href="#bp1" fill="#b4c2ee" stroke="#b4c2ee" stroke-width="3.6" stroke-linejoin="round" opacity="0.9" filter="url(#bf_bp1_1.0)"/>
<use href="#bp1" fill="none" stroke="#e6dcdc" stroke-width="3.3" stroke-linejoin="round"/>
<use href="#bp1" fill="none" stroke="#e8c2ac" stroke-width="2.3" stroke-linejoin="round"/>
<use href="#bp1" fill="none" stroke="#c88c78" stroke-width="1.3" stroke-linejoin="round"/>
<use href="#bp1" fill="#323232" stroke="none"/>
</g>
<g clip-path="url(#cp_bp1)">
<circle cx="135.0" cy="30.5" r="2.5" fill="#d89884"/><circle cx="135.0" cy="30.5" r="2.0" fill="#d2553a"/>
<circle cx="149.1" cy="34.5" r="2.5" fill="#d89884"/><circle cx="149.1" cy="34.5" r="2.0" fill="#d2553a"/>
<circle cx="98.8" cy="36.5" r="2.5" fill="#d89884"/><circle cx="98.8" cy="36.5" r="2.0" fill="#d2553a"/>
<circle cx="112.8" cy="36.5" r="2.5" fill="#d89884"/><circle cx="112.8" cy="36.5" r="2.0" fill="#d2553a"/>
<circle cx="181.3" cy="44.5" r="2.2" fill="#d89884"/><circle cx="181.3" cy="44.5" r="1.7" fill="#d2553a"/>
<circle cx="190.3" cy="35.5" r="2.0" fill="#d89884"/><circle cx="190.3" cy="35.5" r="1.5" fill="#d2553a"/>
<circle cx="64.5" cy="45.5" r="2.2" fill="#d89884"/><circle cx="64.5" cy="45.5" r="1.7" fill="#d2553a"/>
<circle cx="86.7" cy="45.5" r="2.0" fill="#d89884"/><circle cx="86.7" cy="45.5" r="1.5" fill="#d2553a"/>
<circle cx="155.1" cy="66.5" r="2.5" fill="#d89884"/><circle cx="155.1" cy="66.5" r="2.0" fill="#d2553a"/>
<circle cx="114.9" cy="50.5" r="2.2" fill="#d89884"/><circle cx="114.9" cy="50.5" r="1.7" fill="#d2553a"/>
<circle cx="198.4" cy="48.5" r="2.5" fill="#d89884"/><circle cx="198.4" cy="48.5" r="2.0" fill="#d2553a"/>
<circle cx="211.5" cy="50.5" r="2.2" fill="#d89884"/><circle cx="211.5" cy="50.5" r="1.7" fill="#d2553a"/>
<circle cx="169.2" cy="53.5" r="2.5" fill="#d89884"/><circle cx="169.2" cy="53.5" r="2.0" fill="#d2553a"/>
<circle cx="93.7" cy="58.5" r="2.0" fill="#d89884"/><circle cx="93.7" cy="58.5" r="1.5" fill="#d2553a"/>
<circle cx="184.3" cy="60.5" r="2.5" fill="#d89884"/><circle cx="184.3" cy="60.5" r="2.0" fill="#d2553a"/>
<circle cx="125.9" cy="61.5" r="2.0" fill="#d89884"/><circle cx="125.9" cy="61.5" r="1.5" fill="#d2553a"/>
<circle cx="58.5" cy="63.5" r="2.5" fill="#d89884"/><circle cx="58.5" cy="63.5" r="2.0" fill="#d2553a"/>
<circle cx="218.5" cy="62.5" r="2.5" fill="#d89884"/><circle cx="218.5" cy="62.5" r="2.0" fill="#d2553a"/>
<circle cx="198.4" cy="64.5" r="2.5" fill="#d89884"/><circle cx="198.4" cy="64.5" r="2.0" fill="#d2553a"/>
<circle cx="168.2" cy="68.5" r="2.2" fill="#d89884"/><circle cx="168.2" cy="68.5" r="1.7" fill="#d2553a"/>
<circle cx="94.7" cy="71.5" r="2.0" fill="#d89884"/><circle cx="94.7" cy="71.5" r="1.5" fill="#d2553a"/>
<circle cx="125.9" cy="76.5" r="2.5" fill="#d89884"/><circle cx="125.9" cy="76.5" r="2.0" fill="#d2553a"/>
<circle cx="178.2" cy="77.5" r="2.2" fill="#d89884"/><circle cx="178.2" cy="77.5" r="1.7" fill="#d2553a"/>
<circle cx="160.1" cy="80.5" r="2.5" fill="#d89884"/><circle cx="160.1" cy="80.5" r="2.0" fill="#d2553a"/>
<circle cx="107.8" cy="81.5" r="2.2" fill="#d89884"/><circle cx="107.8" cy="81.5" r="1.7" fill="#d2553a"/>
<circle cx="77.6" cy="85.5" r="2.0" fill="#d89884"/><circle cx="77.6" cy="85.5" r="1.5" fill="#d2553a"/>
<circle cx="200.4" cy="83.5" r="2.0" fill="#d89884"/><circle cx="200.4" cy="83.5" r="1.5" fill="#d2553a"/>
<circle cx="138.0" cy="88.5" r="2.5" fill="#d89884"/><circle cx="138.0" cy="88.5" r="2.0" fill="#d2553a"/>
<circle cx="124.9" cy="89.5" r="2.0" fill="#d89884"/><circle cx="124.9" cy="89.5" r="1.5" fill="#d2553a"/>
<circle cx="188.3" cy="90.5" r="2.2" fill="#d89884"/><circle cx="188.3" cy="90.5" r="1.7" fill="#d2553a"/>
<circle cx="167.2" cy="110.5" r="2.2" fill="#d89884"/><circle cx="167.2" cy="110.5" r="1.7" fill="#d2553a"/>
<circle cx="112.8" cy="97.5" r="2.0" fill="#d89884"/><circle cx="112.8" cy="97.5" r="1.5" fill="#d2553a"/>
<circle cx="83.7" cy="99.5" r="2.0" fill="#d89884"/><circle cx="83.7" cy="99.5" r="1.5" fill="#d2553a"/>
<circle cx="97.7" cy="97.5" r="2.2" fill="#d89884"/><circle cx="97.7" cy="97.5" r="1.7" fill="#d2553a"/>
<circle cx="208.4" cy="99.5" r="2.5" fill="#d89884"/><circle cx="208.4" cy="99.5" r="2.0" fill="#d2553a"/>
<circle cx="139.0" cy="103.5" r="2.2" fill="#d89884"/><circle cx="139.0" cy="103.5" r="1.7" fill="#d2553a"/>
<circle cx="70.6" cy="106.5" r="2.0" fill="#d89884"/><circle cx="70.6" cy="106.5" r="1.5" fill="#d2553a"/>
<circle cx="149.1" cy="112.5" r="2.2" fill="#d89884"/><circle cx="149.1" cy="112.5" r="1.7" fill="#d2553a"/>
<circle cx="214.5" cy="111.5" r="2.2" fill="#d89884"/><circle cx="214.5" cy="111.5" r="1.7" fill="#d2553a"/>
<circle cx="83.7" cy="115.5" r="2.0" fill="#d89884"/><circle cx="83.7" cy="115.5" r="1.5" fill="#d2553a"/>
<circle cx="179.3" cy="121.5" r="2.5" fill="#d89884"/><circle cx="179.3" cy="121.5" r="2.0" fill="#d2553a"/>
<circle cx="103.8" cy="119.5" r="2.5" fill="#d89884"/><circle cx="103.8" cy="119.5" r="2.0" fill="#d2553a"/>
<circle cx="62.5" cy="123.5" r="2.2" fill="#d89884"/><circle cx="62.5" cy="123.5" r="1.7" fill="#d2553a"/>
<circle cx="80.6" cy="129.5" r="2.2" fill="#d89884"/><circle cx="80.6" cy="129.5" r="1.7" fill="#d2553a"/>
<circle cx="121.9" cy="129.5" r="2.2" fill="#d89884"/><circle cx="121.9" cy="129.5" r="1.7" fill="#d2553a"/>
<circle cx="168.2" cy="132.5" r="2.5" fill="#d89884"/><circle cx="168.2" cy="132.5" r="2.0" fill="#d2553a"/>
<circle cx="211.5" cy="135.5" r="2.5" fill="#d89884"/><circle cx="211.5" cy="135.5" r="2.0" fill="#d2553a"/>
<circle cx="68.6" cy="137.5" r="2.5" fill="#d89884"/><circle cx="68.6" cy="137.5" r="2.0" fill="#d2553a"/>
<circle cx="101.8" cy="140.5" r="2.5" fill="#d89884"/><circle cx="101.8" cy="140.5" r="2.0" fill="#d2553a"/>
<circle cx="87.7" cy="139.5" r="2.5" fill="#d89884"/><circle cx="87.7" cy="139.5" r="2.0" fill="#d2553a"/>
<circle cx="185.3" cy="142.5" r="2.0" fill="#d89884"/><circle cx="185.3" cy="142.5" r="1.5" fill="#d2553a"/>
<circle cx="128.9" cy="142.5" r="2.0" fill="#d89884"/><circle cx="128.9" cy="142.5" r="1.5" fill="#d2553a"/>
<circle cx="115.9" cy="143.5" r="2.0" fill="#d89884"/><circle cx="115.9" cy="143.5" r="1.5" fill="#d2553a"/>
<circle cx="198.4" cy="149.5" r="2.5" fill="#d89884"/><circle cx="198.4" cy="149.5" r="2.0" fill="#d2553a"/>
<circle cx="217.5" cy="149.5" r="2.5" fill="#d89884"/><circle cx="217.5" cy="149.5" r="2.0" fill="#d2553a"/>
<circle cx="120.9" cy="155.5" r="2.5" fill="#d89884"/><circle cx="120.9" cy="155.5" r="2.0" fill="#d2553a"/>
<circle cx="136.0" cy="156.5" r="2.0" fill="#d89884"/><circle cx="136.0" cy="156.5" r="1.5" fill="#d2553a"/>
<circle cx="148.1" cy="156.5" r="2.0" fill="#d89884"/><circle cx="148.1" cy="156.5" r="1.5" fill="#d2553a"/>
<circle cx="65.5" cy="166.5" r="2.5" fill="#d89884"/><circle cx="65.5" cy="166.5" r="2.0" fill="#d2553a"/>
<circle cx="197.4" cy="164.5" r="2.2" fill="#d89884"/><circle cx="197.4" cy="164.5" r="1.7" fill="#d2553a"/>
<circle cx="210.4" cy="166.5" r="2.0" fill="#d89884"/><circle cx="210.4" cy="166.5" r="1.5" fill="#d2553a"/>
<circle cx="170.2" cy="167.5" r="2.5" fill="#d89884"/><circle cx="170.2" cy="167.5" r="2.0" fill="#d2553a"/>
<circle cx="128.9" cy="167.5" r="2.0" fill="#d89884"/><circle cx="128.9" cy="167.5" r="1.5" fill="#d2553a"/>
<circle cx="112.8" cy="168.5" r="2.5" fill="#d89884"/><circle cx="112.8" cy="168.5" r="2.0" fill="#d2553a"/>
<circle cx="157.1" cy="170.5" r="2.2" fill="#d89884"/><circle cx="157.1" cy="170.5" r="1.7" fill="#d2553a"/>
<circle cx="183.3" cy="174.5" r="2.0" fill="#d89884"/><circle cx="183.3" cy="174.5" r="1.5" fill="#d2553a"/>
<circle cx="200.4" cy="180.5" r="2.5" fill="#d89884"/><circle cx="200.4" cy="180.5" r="2.0" fill="#d2553a"/>
<circle cx="96.7" cy="180.5" r="2.2" fill="#d89884"/><circle cx="96.7" cy="180.5" r="1.7" fill="#d2553a"/>
<circle cx="167.2" cy="182.5" r="2.0" fill="#d89884"/><circle cx="167.2" cy="182.5" r="1.5" fill="#d2553a"/>
<circle cx="58.5" cy="183.5" r="2.2" fill="#d89884"/><circle cx="58.5" cy="183.5" r="1.7" fill="#d2553a"/>
<circle cx="115.9" cy="183.5" r="2.2" fill="#d89884"/><circle cx="115.9" cy="183.5" r="1.7" fill="#d2553a"/>
<circle cx="84.7" cy="187.5" r="2.2" fill="#d89884"/><circle cx="84.7" cy="187.5" r="1.7" fill="#d2553a"/>
<circle cx="136.0" cy="189.5" r="2.2" fill="#d89884"/><circle cx="136.0" cy="189.5" r="1.7" fill="#d2553a"/>
</g>
<g clip-path="url(#cp_bp2)"><rect x="271" y="31" width="160" height="160" fill="#333333"/>
<use href="#bp2" fill="none" stroke="#6a3a32" stroke-width="2.4" stroke-linejoin="round"/>
<use href="#bp2" fill="none" stroke="#c89482" stroke-width="1.4" stroke-linejoin="round"/>
<use href="#bp2" fill="#a8b4e6"/>
<g clip-path="url(#ci_bp2)"><use href="#bp2" fill="#2e3eb2" stroke="#2e3eb2" stroke-width="0.4" filter="url(#bf2)"/></g>
</g>
<g clip-path="url(#cp_bp3)">
<rect x="482" y="30" width="160" height="160" fill="#3a50bc"/>
<use href="#bp3" fill="#7088d4" stroke="#7088d4" stroke-width="4" stroke-linejoin="round" opacity="0.45" filter="url(#bf_bp3_3.0)"/>
<use href="#bp3" fill="#a8b6e4" stroke="#a8b6e4" stroke-width="3.4" stroke-linejoin="round" opacity="0.95" filter="url(#bf_bp3_0.9)"/>
<use href="#bp3" fill="none" stroke="#dccac6" stroke-width="3.0" stroke-linejoin="round"/>
<use href="#bp3" fill="none" stroke="#de7a56" stroke-width="2.1" stroke-linejoin="round"/>
<use href="#bp3" fill="none" stroke="#a02220" stroke-width="1.2" stroke-linejoin="round"/>
<use href="#bp3" fill="#303030" stroke="none"/>
</g>
<rect x="224.4" y="69.6" width="4.4" height="65.9" fill="url(#cw)"/>
<line x1="229.0" y1="69.6" x2="231.20000000000002" y2="69.6" stroke="#999" stroke-width="0.6"/>
<text x="233.70000000000002" y="71.5" font-size="5.4" fill="#444" text-anchor="start" font-family="Liberation Sans, sans-serif" >1.0e-04</text>
<line x1="229.0" y1="82.8" x2="231.20000000000002" y2="82.8" stroke="#999" stroke-width="0.6"/>
<text x="233.70000000000002" y="84.68" font-size="5.4" fill="#444" text-anchor="start" font-family="Liberation Sans, sans-serif" >8e-5</text>
<line x1="229.0" y1="96.0" x2="231.20000000000002" y2="96.0" stroke="#999" stroke-width="0.6"/>
<text x="233.70000000000002" y="97.86" font-size="5.4" fill="#444" text-anchor="start" font-family="Liberation Sans, sans-serif" >6e-5</text>
<line x1="229.0" y1="109.1" x2="231.20000000000002" y2="109.1" stroke="#999" stroke-width="0.6"/>
<text x="233.70000000000002" y="111.04" font-size="5.4" fill="#444" text-anchor="start" font-family="Liberation Sans, sans-serif" >4e-5</text>
<line x1="229.0" y1="122.3" x2="231.20000000000002" y2="122.3" stroke="#999" stroke-width="0.6"/>
<text x="233.70000000000002" y="124.22" font-size="5.4" fill="#444" text-anchor="start" font-family="Liberation Sans, sans-serif" >2e-5</text>
<line x1="229.0" y1="135.5" x2="231.20000000000002" y2="135.5" stroke="#999" stroke-width="0.6"/>
<text x="233.70000000000002" y="137.4" font-size="5.4" fill="#444" text-anchor="start" font-family="Liberation Sans, sans-serif" >0.0e+00</text>
<text transform="translate(261,103.05) rotate(-90)" font-size="8.7" fill="#222" text-anchor="middle" font-family="Liberation Sans, sans-serif">Eforce</text>
<rect x="437.0" y="71.0" width="4.4" height="65.6" fill="url(#cw)"/>
<line x1="441.6" y1="71.0" x2="443.8" y2="71.0" stroke="#999" stroke-width="0.6"/>
<text x="446.3" y="72.9" font-size="5.4" fill="#444" text-anchor="start" font-family="Liberation Sans, sans-serif" >1.0e-03</text>
<line x1="441.6" y1="84.1" x2="443.8" y2="84.1" stroke="#999" stroke-width="0.6"/>
<text x="446.3" y="86.02000000000001" font-size="5.4" fill="#444" text-anchor="start" font-family="Liberation Sans, sans-serif" >0.0008</text>
<line x1="441.6" y1="97.2" x2="443.8" y2="97.2" stroke="#999" stroke-width="0.6"/>
<text x="446.3" y="99.14" font-size="5.4" fill="#444" text-anchor="start" font-family="Liberation Sans, sans-serif" >0.0006</text>
<line x1="441.6" y1="110.4" x2="443.8" y2="110.4" stroke="#999" stroke-width="0.6"/>
<text x="446.3" y="112.26" font-size="5.4" fill="#444" text-anchor="start" font-family="Liberation Sans, sans-serif" >0.0004</text>
<line x1="441.6" y1="123.5" x2="443.8" y2="123.5" stroke="#999" stroke-width="0.6"/>
<text x="446.3" y="125.38" font-size="5.4" fill="#444" text-anchor="start" font-family="Liberation Sans, sans-serif" >0.0002</text>
<line x1="441.6" y1="136.6" x2="443.8" y2="136.6" stroke="#999" stroke-width="0.6"/>
<text x="446.3" y="138.5" font-size="5.4" fill="#444" text-anchor="start" font-family="Liberation Sans, sans-serif" >0.0e+00</text>
<text transform="translate(473.2,104.3) rotate(-90)" font-size="8.7" fill="#222" text-anchor="middle" font-family="Liberation Sans, sans-serif">Eforce</text>
<rect x="648.0" y="69.6" width="4.4" height="65.9" fill="url(#cw)"/>
<line x1="652.6" y1="69.6" x2="654.8" y2="69.6" stroke="#999" stroke-width="0.6"/>
<text x="657.3" y="71.5" font-size="5.4" fill="#444" text-anchor="start" font-family="Liberation Sans, sans-serif" >2.0e-04</text>
<line x1="652.6" y1="86.1" x2="654.8" y2="86.1" stroke="#999" stroke-width="0.6"/>
<text x="657.3" y="87.975" font-size="5.4" fill="#444" text-anchor="start" font-family="Liberation Sans, sans-serif" >0.00015</text>
<line x1="652.6" y1="102.5" x2="654.8" y2="102.5" stroke="#999" stroke-width="0.6"/>
<text x="657.3" y="104.45" font-size="5.4" fill="#444" text-anchor="start" font-family="Liberation Sans, sans-serif" >0.0001</text>
<line x1="652.6" y1="119.0" x2="654.8" y2="119.0" stroke="#999" stroke-width="0.6"/>
<text x="657.3" y="120.92500000000001" font-size="5.4" fill="#444" text-anchor="start" font-family="Liberation Sans, sans-serif" >5e-5</text>
<line x1="652.6" y1="135.5" x2="654.8" y2="135.5" stroke="#999" stroke-width="0.6"/>
<text x="657.3" y="137.4" font-size="5.4" fill="#444" text-anchor="start" font-family="Liberation Sans, sans-serif" >0.0e+00</text>
<text transform="translate(685.3,103.05) rotate(-90)" font-size="8.7" fill="#222" text-anchor="middle" font-family="Liberation Sans, sans-serif">Eforce</text>
<text x="22.5" y="41.4" font-size="13" fill="#000" text-anchor="start" font-family="Liberation Sans, sans-serif" >(a)</text>
<text x="90.9" y="211.9" font-size="13.3" textLength="12.4" lengthAdjust="spacingAndGlyphs" font-family="Liberation Serif, serif" fill="#1a1a1a">Ca</text>
<text x="103.9" y="214.3" font-size="10.4" textLength="4.9" lengthAdjust="spacingAndGlyphs" font-family="Liberation Serif, serif"  fill="#1a1a1a">e</text>
<text x="113.0" y="211.9" font-size="13.3" textLength="9.0" lengthAdjust="spacingAndGlyphs" font-family="Liberation Serif, serif" fill="#1a1a1a">=</text>
<text x="129.8" y="211.9" font-size="13.3" textLength="25.3" lengthAdjust="spacingAndGlyphs" font-family="Liberation Serif, serif" fill="#1a1a1a">0.4,T</text>
<text x="155.4" y="214.3" font-size="10.4" textLength="5.8" lengthAdjust="spacingAndGlyphs" font-family="Liberation Serif, serif" font-style="italic" fill="#1a1a1a">σ</text>
<text x="165.8" y="211.9" font-size="13.3" textLength="8.0" lengthAdjust="spacingAndGlyphs" font-family="Liberation Serif, serif" fill="#1a1a1a">=</text>
<text x="179.1" y="211.9" font-size="13.3" textLength="15.3" lengthAdjust="spacingAndGlyphs" font-family="Liberation Serif, serif" fill="#1a1a1a">6.4</text>
<text x="303.7" y="211.9" font-size="13.3" textLength="12.4" lengthAdjust="spacingAndGlyphs" font-family="Liberation Serif, serif" fill="#1a1a1a">Ca</text>
<text x="316.7" y="214.3" font-size="10.4" textLength="4.9" lengthAdjust="spacingAndGlyphs" font-family="Liberation Serif, serif"  fill="#1a1a1a">e</text>
<text x="325.8" y="211.9" font-size="13.3" textLength="9.0" lengthAdjust="spacingAndGlyphs" font-family="Liberation Serif, serif" fill="#1a1a1a">=</text>
<text x="342.6" y="211.9" font-size="13.3" textLength="25.3" lengthAdjust="spacingAndGlyphs" font-family="Liberation Serif, serif" fill="#1a1a1a">1.6,T</text>
<text x="368.2" y="214.3" font-size="10.4" textLength="5.8" lengthAdjust="spacingAndGlyphs" font-family="Liberation Serif, serif" font-style="italic" fill="#1a1a1a">σ</text>
<text x="378.6" y="211.9" font-size="13.3" textLength="8.0" lengthAdjust="spacingAndGlyphs" font-family="Liberation Serif, serif" fill="#1a1a1a">=</text>
<text x="391.9" y="211.9" font-size="13.3" textLength="15.3" lengthAdjust="spacingAndGlyphs" font-family="Liberation Serif, serif" fill="#1a1a1a">6.4</text>
<text x="503.3" y="211.9" font-size="13.3" textLength="12.4" lengthAdjust="spacingAndGlyphs" font-family="Liberation Serif, serif" fill="#1a1a1a">Ca</text>
<text x="516.3" y="214.3" font-size="10.4" textLength="4.9" lengthAdjust="spacingAndGlyphs" font-family="Liberation Serif, serif"  fill="#1a1a1a">e</text>
<text x="525.4" y="211.9" font-size="13.3" textLength="9.0" lengthAdjust="spacingAndGlyphs" font-family="Liberation Serif, serif" fill="#1a1a1a">=</text>
<text x="542.2" y="211.9" font-size="13.3" textLength="25.3" lengthAdjust="spacingAndGlyphs" font-family="Liberation Serif, serif" fill="#1a1a1a">1.6,T</text>
<text x="567.8" y="214.3" font-size="10.4" textLength="5.8" lengthAdjust="spacingAndGlyphs" font-family="Liberation Serif, serif" font-style="italic" fill="#1a1a1a">σ</text>
<text x="578.2" y="211.9" font-size="13.3" textLength="8.0" lengthAdjust="spacingAndGlyphs" font-family="Liberation Serif, serif" fill="#1a1a1a">=</text>
<text x="591.5" y="211.9" font-size="13.3" textLength="29.2" lengthAdjust="spacingAndGlyphs" font-family="Liberation Serif, serif" fill="#1a1a1a">160.0</text>
<g clip-path="url(#cpO)">
<rect x="110" y="20" width="67" height="66" fill="#3448b8"/>
<ellipse cx="118" cy="26" rx="14" ry="8" fill="#26329a" filter="url(#blur2)"/>
<ellipse cx="170" cy="76" rx="12" ry="14" fill="#26329a" filter="url(#blur2)"/>
<path d="M110,62 C122,56 132,50 140,50 L146,76 C140,80 125,84 110,84 Z" fill="#6f86d8" filter="url(#blur2)"/>
<path d="M110,43.6 C116,41 126,36.5 131,34.8 C136,33 142,31.2 147.6,30.9 C151,30.9 154.5,33 156.2,37.5 C157,41 156,46 154.8,50.5 C154.6,54 155.2,57 157.2,60.5 C159.5,64 161.2,68.5 159.6,72 C157.8,74.5 153.5,74.6 150.5,73.9 C146.5,73 143,70 141.6,66 C140.6,62 140.8,57 142.4,53 C142,50.5 141.5,49 139.5,48.6 C136,48.3 131.5,49.6 127.4,52.3 C122,56 117,60 110,63 Z" fill="none" stroke="#b9c6f0" stroke-width="7" filter="url(#blur2)"/>
<path d="M110,43.6 C116,41 126,36.5 131,34.8 C136,33 142,31.2 147.6,30.9 C151,30.9 154.5,33 156.2,37.5 C157,41 156,46 154.8,50.5 C154.6,54 155.2,57 157.2,60.5 C159.5,64 161.2,68.5 159.6,72 C157.8,74.5 153.5,74.6 150.5,73.9 C146.5,73 143,70 141.6,66 C140.6,62 140.8,57 142.4,53 C142,50.5 141.5,49 139.5,48.6 C136,48.3 131.5,49.6 127.4,52.3 C122,56 117,60 110,63 Z" fill="none" stroke="#ecd8d0" stroke-width="2.6" filter="url(#blur05)"/>
<path d="M110,43.6 C116,41 126,36.5 131,34.8 C136,33 142,31.2 147.6,30.9 C151,30.9 154.5,33 156.2,37.5 C157,41 156,46 154.8,50.5 C154.6,54 155.2,57 157.2,60.5 C159.5,64 161.2,68.5 159.6,72 C157.8,74.5 153.5,74.6 150.5,73.9 C146.5,73 143,70 141.6,66 C140.6,62 140.8,57 142.4,53 C142,50.5 141.5,49 139.5,48.6 C136,48.3 131.5,49.6 127.4,52.3 C122,56 117,60 110,63 Z" fill="#333" stroke="#e3a486" stroke-width="0.9"/>
<path d="M143,50 C146,48.5 151,48.5 154,51 C153.6,54 151,55 148,54.6 C145.5,54.4 143.6,53 143,50 Z" fill="#5d74d2"/>
<ellipse cx="146.3" cy="57.2" rx="1.5" ry="2.3" fill="#4a62cc"/>
<ellipse cx="152.6" cy="57.8" rx="1.3" ry="1.9" fill="#4a62cc"/>
<path d="M142.5,66 C144,71 149,74.6 155,74.4" fill="none" stroke="#c03422" stroke-width="1.1"/>
<circle cx="143.3" cy="40.7" r="7.6" fill="#e9c2b0"/>
<circle cx="143.3" cy="40.7" r="7.0" fill="url(#bub)"/>
<circle cx="150.8" cy="65" r="5.0" fill="#e9c2b0"/>
<circle cx="150.8" cy="65" r="4.5" fill="url(#bub)"/>
<ellipse cx="175.5" cy="37.5" rx="8" ry="9.5" fill="#c8d4f4" filter="url(#blur1)"/>
<ellipse cx="175.5" cy="37.5" rx="6" ry="7.2" fill="#333" stroke="#c03422" stroke-width="0.9"/>
</g>
<rect x="113" y="22.2" width="61.2" height="60.8" fill="none" stroke="#f0a47e" stroke-width="2"/>
<rect x="75.3" y="60.3" width="19.4" height="20.2" fill="none" stroke="#f0a47e" stroke-width="1.4"/>
<line x1="94.7" y1="60.3" x2="112" y2="60.3" stroke="#f0a47e" stroke-width="1.2"/>
<circle cx="74.5" cy="54.1" r="2.2" fill="#d2553a"/>
<circle cx="74.5" cy="54.1" r="3.8" fill="none" stroke="#f0a47e" stroke-width="1.2"/>
<circle cx="83.5" cy="66.1" r="2.2" fill="#d2553a"/>
<circle cx="83.5" cy="66.1" r="3.8" fill="none" stroke="#f0a47e" stroke-width="1.2"/>
<circle cx="80.5" cy="102.4" r="2.2" fill="#d2553a"/>
<circle cx="80.5" cy="102.4" r="3.8" fill="none" stroke="#f0a47e" stroke-width="1.2"/>
<ellipse cx="86" cy="74.5" rx="2.2" ry="3.2" fill="#333" stroke="#e0a080" stroke-width="0.8"/>
<circle cx="86" cy="75" r="1.3" fill="#d2553a"/>
<line x1="59.4" y1="62.4" x2="67.08" y2="57.99" stroke="#f0a47e" stroke-width="1.3" stroke-dasharray="2.6,1.6"/>
<path d="M70.2,56.2 L67.97,59.55 L66.18,56.43 Z" fill="#f0a47e"/>
<line x1="59.4" y1="71.4" x2="72.95" y2="69.18" stroke="#f0a47e" stroke-width="1.3" stroke-dasharray="2.6,1.6"/>
<path d="M76.5,68.6 L73.24,70.96 L72.66,67.41 Z" fill="#f0a47e"/>
<line x1="60" y1="90.3" x2="74.14" y2="97.98" stroke="#f0a47e" stroke-width="1.3" stroke-dasharray="2.6,1.6"/>
<path d="M77.3,99.7 L73.28,99.56 L75.00,96.40 Z" fill="#f0a47e"/>
<line x1="51" y1="67.7" x2="54.5" y2="66.0" stroke="#f0a47e" stroke-width="1.2"/>
<line x1="51" y1="74.5" x2="56" y2="73.7" stroke="#f0a47e" stroke-width="1.2"/>
<line x1="52.4" y1="84.2" x2="55.8" y2="86.2" stroke="#f0a47e" stroke-width="1.2"/>
<rect x="1.5" y="61.5" width="48.3" height="33" fill="#fff" stroke="#f0a47e" stroke-width="1"/>
<text x="6.8" y="71.3" font-size="7.7" fill="#111" text-anchor="start" font-family="Liberation Sans, sans-serif" font-weight="bold" >Dispersed</text>
<text x="6.8" y="80.2" font-size="7.7" fill="#111" text-anchor="start" font-family="Liberation Sans, sans-serif" font-weight="bold" >nucleation</text>
<text x="6.8" y="89.1" font-size="7.7" fill="#111" text-anchor="start" font-family="Liberation Sans, sans-serif" font-weight="bold" >sites</text>
<g clip-path="url(#cpB)">
<rect x="94" y="131" width="66" height="65" fill="#3244b2"/>
<ellipse cx="153" cy="140" rx="10" ry="9" fill="#222e94" filter="url(#blur2)"/>
<path d="M112,134 C125,150 130,165 126,195 L140,195 C150,190 160,186 160,182 L160,160 C150,150 130,140 118,134 Z" fill="#8ea2e2" filter="url(#blur2)"/>
<path d="M102.5,142.4 C100,143.5 99,146 99.3,148.5 C99.8,152 100.5,156 101.7,159.1 C103.5,163 105,166.5 107.2,170.1 C109,174 110,177 112,179.6 C113.5,182 115,184.2 117.5,184.6 C120,184.8 122.5,183.5 123.3,180.5 C124,177.5 122,172.5 119.9,168.6 C118,164 116.5,161 115.2,157.5 C113.8,153 113.4,149 112,146.4 C110.5,143.5 107,141.2 102.5,142.4 Z" fill="none" stroke="#b8c4ef" stroke-width="6" filter="url(#blur2)"/>
<path d="M102.5,142.4 C100,143.5 99,146 99.3,148.5 C99.8,152 100.5,156 101.7,159.1 C103.5,163 105,166.5 107.2,170.1 C109,174 110,177 112,179.6 C113.5,182 115,184.2 117.5,184.6 C120,184.8 122.5,183.5 123.3,180.5 C124,177.5 122,172.5 119.9,168.6 C118,164 116.5,161 115.2,157.5 C113.8,153 113.4,149 112,146.4 C110.5,143.5 107,141.2 102.5,142.4 Z" fill="none" stroke="#ecd6cc" stroke-width="2.4" filter="url(#blur05)"/>
<ellipse cx="142" cy="171.4" rx="9.6" ry="10.9" fill="#b8c4ef" filter="url(#blur2)"/>
<ellipse cx="142" cy="171.4" rx="8.6" ry="9.9" fill="#ecd6cc" filter="url(#blur05)"/>
<path d="M102.5,142.4 C100,143.5 99,146 99.3,148.5 C99.8,152 100.5,156 101.7,159.1 C103.5,163 105,166.5 107.2,170.1 C109,174 110,177 112,179.6 C113.5,182 115,184.2 117.5,184.6 C120,184.8 122.5,183.5 123.3,180.5 C124,177.5 122,172.5 119.9,168.6 C118,164 116.5,161 115.2,157.5 C113.8,153 113.4,149 112,146.4 C110.5,143.5 107,141.2 102.5,142.4 Z" fill="#333" stroke="#dfa286" stroke-width="0.9"/>
<path d="M113,181.5 C116,185.5 121,185 123,181" fill="none" stroke="#c03422" stroke-width="1.2"/>
<ellipse cx="142" cy="171.4" rx="7.9" ry="9.2" fill="#333" stroke="#dfa286" stroke-width="0.9"/>
<path d="M135,176 C137,181 146,182.5 149.5,177" fill="none" stroke="#c03422" stroke-width="1.2"/>
<ellipse cx="108.5" cy="157.5" rx="1.5" ry="2.5" transform="rotate(-20 108.5 157.5)" fill="#6a7fdc"/>
<ellipse cx="138" cy="133" rx="7" ry="6" fill="#c8d0f0" filter="url(#blur1)"/>
<ellipse cx="138" cy="133" rx="5.5" ry="4.5" fill="#333" stroke="#c03422" stroke-width="0.9"/>
</g>
<rect x="96.4" y="133.4" width="60.6" height="59.6" fill="none" stroke="#4cb6ea" stroke-width="2"/>
<rect x="179" y="149.5" width="19.5" height="16.5" fill="none" stroke="#4cb6ea" stroke-width="1.1"/>
<line x1="178.5" y1="150" x2="161" y2="150" stroke="#4cb6ea" stroke-width="1.1"/>
<path d="M164,147.8 L159.5,150 L164,152.2" fill="none" stroke="#4cb6ea" stroke-width="1"/>
<line x1="219" y1="151" x2="191" y2="140.27" stroke="#4cb6ea" stroke-width="1.3" stroke-dasharray="3,1.8"/>
<path d="M189,139.5 L193.45,139.06 L192.02,142.80 Z" fill="#4cb6ea"/>
<line x1="219" y1="159" x2="201.5" y2="158.55" stroke="#4cb6ea" stroke-width="1.3" stroke-dasharray="3,1.8"/>
<path d="M199.5,158.5 L203.55,156.60 L203.45,160.60 Z" fill="#4cb6ea"/>
<line x1="219" y1="177.5" x2="201.5" y2="177.50" stroke="#4cb6ea" stroke-width="1.3" stroke-dasharray="3,1.8"/>
<path d="M199.5,177.5 L203.50,175.50 L203.50,179.50 Z" fill="#4cb6ea"/>
<line x1="219" y1="170" x2="210" y2="168" stroke="#4cb6ea" stroke-width="1.3" stroke-dasharray="3,1.8"/>
<rect x="220.3" y="149.1" width="54.5" height="32.2" fill="#fff" stroke="#4cb6ea" stroke-width="1.1"/>
<text x="225.4" y="158.8" font-size="7.6" fill="#111" text-anchor="start" font-family="Liberation Sans, sans-serif" font-weight="bold" >Continuous</text>
<text x="225.4" y="167.70000000000002" font-size="7.6" fill="#111" text-anchor="start" font-family="Liberation Sans, sans-serif" font-weight="bold" >nucleation</text>
<text x="225.4" y="176.60000000000002" font-size="7.6" fill="#111" text-anchor="start" font-family="Liberation Sans, sans-serif" font-weight="bold" >sites</text>
<g clip-path="url(#cpG)">
<rect x="364" y="28" width="66" height="64" fill="#3b4fc4"/>
<ellipse cx="373" cy="82" rx="9" ry="9" fill="#2b3aa6" filter="url(#blur2)"/>
<ellipse cx="418" cy="74" rx="8" ry="6" fill="#2b3aa6" filter="url(#blur2)"/>
<ellipse cx="405" cy="35" rx="10" ry="4" fill="#2b3aa6" filter="url(#blur2)"/>
<path d="M364,29 L386,29 C386.2,33 385.6,36 385.1,38.5 C384,42 382.5,44.5 380.2,45.6 C377.5,46.8 374,46.6 371,45.6 C368,44.8 366,44.2 364,44 Z" fill="none" stroke="#c8cef0" stroke-width="4" filter="url(#blur1)"/>
<path d="M379.5,57 C380,54 381,52.5 383,51.3 C385.5,49.2 387.5,47.8 390.1,47 C393,45.6 396,44.4 398.6,44.2 C401,44 403.5,44.4 405.7,45.6 C408,47 409.5,48.5 410.3,50.2 C411,52 411.6,53 411.4,54.6 C411,57 410,58.5 408.6,59.8 C407,61.5 406.5,62.5 405.7,64 C404.5,66 403.6,67 402.9,68.3 C401.5,70.5 400,71.8 398.6,72.6 C397,73.5 395.5,74.2 394.4,74 C392,74 390.5,73.4 388.7,72.6 C386,71.3 383.5,70 381.6,68.3 C380,66.5 379.2,64.5 378.8,62.6 C378.5,60.5 378.9,58.5 379.5,57 Z" fill="none" stroke="#c8cef0" stroke-width="4" filter="url(#blur1)"/>
<path d="M430,44 C426,45 423,46.5 421.6,48.5 C420,51 419.6,53.5 420.1,56 C420.6,58.5 422,61 424,63 C426,64.5 428,65.2 430,65.5 Z" fill="none" stroke="#c8cef0" stroke-width="4" filter="url(#blur1)"/>
<path d="M389,93 C390.5,87 392,81 394.4,78 C397,77.6 400,79 402.9,80.5 C406,82 409,83.2 411.4,83.6 C416,84.5 422,85 430,85.2 L430,93 Z" fill="none" stroke="#c8cef0" stroke-width="4" filter="url(#blur1)"/>
<path d="M421,29 C421.5,31.5 423.5,33.2 426,33.6 C428,33.8 429.5,33.5 430,33 L430,29 Z" fill="none" stroke="#c8cef0" stroke-width="4" filter="url(#blur1)"/>
<ellipse cx="384.6" cy="47.8" rx="4.2" ry="7.5" transform="rotate(45 384.6 47.8)" fill="#e8d4d6" filter="url(#blur1)"/>
<ellipse cx="384.6" cy="47.8" rx="1.89" ry="4.50" transform="rotate(45 384.6 47.8)" fill="#f4e0d8" filter="url(#blur05)"/>
<ellipse cx="416.2" cy="53.5" rx="4.0" ry="8.5" transform="rotate(0 416.2 53.5)" fill="#e8d4d6" filter="url(#blur1)"/>
<ellipse cx="416.2" cy="53.5" rx="1.80" ry="5.10" transform="rotate(0 416.2 53.5)" fill="#f4e0d8" filter="url(#blur05)"/>
<ellipse cx="398.5" cy="76.3" rx="4.2" ry="7.5" transform="rotate(-40 398.5 76.3)" fill="#e8d4d6" filter="url(#blur1)"/>
<ellipse cx="398.5" cy="76.3" rx="1.89" ry="4.50" transform="rotate(-40 398.5 76.3)" fill="#f4e0d8" filter="url(#blur05)"/>
<path d="M364,29 L386,29 C386.2,33 385.6,36 385.1,38.5 C384,42 382.5,44.5 380.2,45.6 C377.5,46.8 374,46.6 371,45.6 C368,44.8 366,44.2 364,44 Z" fill="#333" stroke="#b02a1c" stroke-width="1.1"/>
<path d="M379.5,57 C380,54 381,52.5 383,51.3 C385.5,49.2 387.5,47.8 390.1,47 C393,45.6 396,44.4 398.6,44.2 C401,44 403.5,44.4 405.7,45.6 C408,47 409.5,48.5 410.3,50.2 C411,52 411.6,53 411.4,54.6 C411,57 410,58.5 408.6,59.8 C407,61.5 406.5,62.5 405.7,64 C404.5,66 403.6,67 402.9,68.3 C401.5,70.5 400,71.8 398.6,72.6 C397,73.5 395.5,74.2 394.4,74 C392,74 390.5,73.4 388.7,72.6 C386,71.3 383.5,70 381.6,68.3 C380,66.5 379.2,64.5 378.8,62.6 C378.5,60.5 378.9,58.5 379.5,57 Z" fill="#333" stroke="#b02a1c" stroke-width="1.1"/>
<path d="M430,44 C426,45 423,46.5 421.6,48.5 C420,51 419.6,53.5 420.1,56 C420.6,58.5 422,61 424,63 C426,64.5 428,65.2 430,65.5 Z" fill="#333" stroke="#b02a1c" stroke-width="1.1"/>
<path d="M389,93 C390.5,87 392,81 394.4,78 C397,77.6 400,79 402.9,80.5 C406,82 409,83.2 411.4,83.6 C416,84.5 422,85 430,85.2 L430,93 Z" fill="#333" stroke="#b02a1c" stroke-width="1.1"/>
<path d="M421,29 C421.5,31.5 423.5,33.2 426,33.6 C428,33.8 429.5,33.5 430,33 L430,29 Z" fill="#333" stroke="#b02a1c" stroke-width="1.1"/>
</g>
<circle cx="385.3" cy="47.2" r="9.3" fill="none" stroke="#8fd44e" stroke-width="1.2"/>
<circle cx="416.5" cy="53.7" r="9.3" fill="none" stroke="#8fd44e" stroke-width="1.2"/>
<circle cx="398.1" cy="78.1" r="9.3" fill="none" stroke="#8fd44e" stroke-width="1.2"/>
<rect x="366.6" y="30.6" width="60.4" height="59" fill="none" stroke="#8fd44e" stroke-width="2"/>
<rect x="324.6" y="51.4" width="22.6" height="17" fill="none" stroke="#8fd44e" stroke-width="1.2"/>
<line x1="347.5" y1="67" x2="363" y2="67" stroke="#8fd44e" stroke-width="1.2"/>
<path d="M360,64.8 L364.5,67 L360,69.2 Z" fill="#8fd44e"/>
<circle cx="307.1" cy="61.7" r="2.4" fill="none" stroke="#8fd44e" stroke-width="1.1"/>
<circle cx="332.5" cy="56.3" r="2.4" fill="none" stroke="#8fd44e" stroke-width="1.1"/>
<circle cx="351.2" cy="36.9" r="2.4" fill="none" stroke="#8fd44e" stroke-width="1.1"/>
<line x1="320.4" y1="26" x2="309.99" y2="54.05" stroke="#8fd44e" stroke-width="1.4" stroke-dasharray="3,2"/>
<path d="M308.6,57.8 L308.12,53.35 L311.87,54.75 Z" fill="#8fd44e"/>
<line x1="329.5" y1="26" x2="329.50" y2="46.50" stroke="#8fd44e" stroke-width="1.4" stroke-dasharray="3,2"/>
<path d="M329.5,50.5 L327.50,46.50 L331.50,46.50 Z" fill="#8fd44e"/>
<line x1="339.1" y1="26" x2="346.36" y2="32.20" stroke="#8fd44e" stroke-width="1.4" stroke-dasharray="3,2"/>
<path d="M349.4,34.8 L345.06,33.72 L347.66,30.68 Z" fill="#8fd44e"/>
<rect x="301.5" y="2.2" width="72" height="22.7" fill="#fff" stroke="#8fd44e" stroke-width="1.1"/>
<text x="306.6" y="11.9" font-size="7.9" fill="#111" text-anchor="start" font-family="Liberation Sans, sans-serif" font-weight="bold" textLength="26.4" lengthAdjust="spacingAndGlyphs">Shrunk</text>
<text x="306.6" y="21.2" font-size="7.9" fill="#111" text-anchor="start" font-family="Liberation Sans, sans-serif" font-weight="bold" textLength="58" lengthAdjust="spacingAndGlyphs">nucleation sites</text>
<rect x="67.4" y="250.6" width="345.0" height="142.79999999999998" fill="url(#bgb)"/>
<rect x="76.2" y="271.0" width="21.0" height="122.39999999999998" fill="#1c3167"/>
<rect x="101.6" y="338.8" width="21.30000000000001" height="54.599999999999966" fill="#3f7cc0"/>
<rect x="127.0" y="336.8" width="20.99999999999999" height="56.59999999999999" fill="#e4eef7" fill-opacity="0.5" stroke="#3f7cc0" stroke-width="1.3"/>
<rect x="152.6" y="311.0" width="21.100000000000012" height="82.4" fill="#e4eef7" fill-opacity="0.5" stroke="#f3b69c" stroke-width="1.3"/>
<rect x="178.1" y="280.0" width="20.99999999999999" height="113.4" fill="#e4eef7" fill-opacity="0.5" stroke="#ea5040" stroke-width="1.3"/>
<rect x="203.6" y="301.8" width="21.200000000000006" height="91.6" fill="url(#hR)" stroke="#e8392c" stroke-width="1.3"/>
<rect x="229.6" y="324.20000000000005" width="19.99999999999999" height="69.19999999999996" fill="url(#hLB)" stroke="#a9d3e8" stroke-width="1.3"/>
<rect x="254.7" y="333.8" width="21.200000000000006" height="59.59999999999999" fill="url(#hB)" stroke="#3f7cc0" stroke-width="1.3"/>
<rect x="279.8" y="365.9" width="21.80000000000001" height="27.5" fill="#f0674b"/>
<rect x="305.8" y="384.0" width="21.19999999999999" height="9.399999999999977" fill="#e8392c"/>
<rect x="331.2" y="331.4" width="21.400000000000034" height="62.0" fill="url(#g1)"/>
<rect x="331.2" y="331.4" width="21.400000000000034" height="62.0" fill="url(#hW)"/>
<rect x="356.6" y="362.2" width="21.399999999999977" height="31.19999999999999" fill="url(#g2)"/>
<rect x="356.6" y="362.2" width="21.399999999999977" height="31.19999999999999" fill="url(#hW)"/>
<rect x="382.2" y="384.0" width="21.5" height="9.399999999999977" fill="url(#g3)"/>
<rect x="382.2" y="384.0" width="21.5" height="9.399999999999977" fill="url(#hW)"/>
<text x="137.5" y="380.6" font-size="6.6" fill="#555" text-anchor="middle" font-family="Liberation Sans, sans-serif" >Case</text>
<text x="137.5" y="389.6" font-size="6.6" fill="#555" text-anchor="middle" font-family="Liberation Sans, sans-serif" >1</text>
<text x="163.15" y="380.6" font-size="6.6" fill="#555" text-anchor="middle" font-family="Liberation Sans, sans-serif" >Case</text>
<text x="163.15" y="389.6" font-size="6.6" fill="#555" text-anchor="middle" font-family="Liberation Sans, sans-serif" >2</text>
<text x="188.6" y="380.6" font-size="6.6" fill="#555" text-anchor="middle" font-family="Liberation Sans, sans-serif" >Case</text>
<text x="188.6" y="389.6" font-size="6.6" fill="#555" text-anchor="middle" font-family="Liberation Sans, sans-serif" >3</text>
<text x="214.2" y="380.6" font-size="6.6" fill="#555" text-anchor="middle" font-family="Liberation Sans, sans-serif" >Case</text>
<text x="214.2" y="389.6" font-size="6.6" fill="#555" text-anchor="middle" font-family="Liberation Sans, sans-serif" >4</text>
<text x="239.6" y="380.6" font-size="6.6" fill="#555" text-anchor="middle" font-family="Liberation Sans, sans-serif" >Case</text>
<text x="239.6" y="389.6" font-size="6.6" fill="#555" text-anchor="middle" font-family="Liberation Sans, sans-serif" >5</text>
<text x="265.3" y="380.6" font-size="6.6" fill="#555" text-anchor="middle" font-family="Liberation Sans, sans-serif" >Case</text>
<text x="265.3" y="389.6" font-size="6.6" fill="#555" text-anchor="middle" font-family="Liberation Sans, sans-serif" >6</text>
<line x1="67.4" y1="250.6" x2="412.4" y2="250.6" stroke="#8c8c8c" stroke-width="1.5"/>
<line x1="412.4" y1="250.6" x2="412.4" y2="393.4" stroke="#555" stroke-width="1"/>
<line x1="67.4" y1="250.6" x2="67.4" y2="393.4" stroke="#333" stroke-width="1"/>
<line x1="66.9" y1="393.4" x2="412.9" y2="393.4" stroke="#222" stroke-width="1.1"/>
<line x1="62.3" y1="393.40" x2="67.4" y2="393.40" stroke="#222" stroke-width="1"/>
<text x="58.8" y="397.0" font-size="10" fill="#111" text-anchor="end" font-family="Liberation Sans, sans-serif" >0.0</text>
<line x1="64.6" y1="369.60" x2="67.4" y2="369.60" stroke="#222" stroke-width="0.9"/>
<line x1="62.3" y1="345.80" x2="67.4" y2="345.80" stroke="#222" stroke-width="1"/>
<text x="58.8" y="349.4" font-size="10" fill="#111" text-anchor="end" font-family="Liberation Sans, sans-serif" >0.2</text>
<line x1="64.6" y1="322.00" x2="67.4" y2="322.00" stroke="#222" stroke-width="0.9"/>
<line x1="62.3" y1="298.20" x2="67.4" y2="298.20" stroke="#222" stroke-width="1"/>
<text x="58.8" y="301.8" font-size="10" fill="#111" text-anchor="end" font-family="Liberation Sans, sans-serif" >0.4</text>
<line x1="64.6" y1="274.40" x2="67.4" y2="274.40" stroke="#222" stroke-width="0.9"/>
<line x1="62.3" y1="250.60" x2="67.4" y2="250.60" stroke="#222" stroke-width="1"/>
<text x="58.8" y="254.19999999999996" font-size="10" fill="#111" text-anchor="end" font-family="Liberation Sans, sans-serif" >0.6</text>
<g transform="translate(31.7,334) rotate(-90)"><text x="0" y="0" font-size="11.5" font-family="Liberation Sans, sans-serif">S</text><text x="7.9" y="4.3" font-size="7.4" font-family="Liberation Sans, sans-serif">wet</text><text x="9.6" y="-4.6" font-size="8" font-family="Liberation Sans, sans-serif">′</text></g>
<line x1="86.7" y1="393.4" x2="86.7" y2="397.4" stroke="#222" stroke-width="1"/>
<text x="86.7" y="410.7" font-size="9.4" fill="#111" text-anchor="middle" font-family="Liberation Sans, sans-serif" >0.24</text>
<line x1="291.0" y1="393.4" x2="291.0" y2="397.4" stroke="#222" stroke-width="1"/>
<text x="291.0" y="410.7" font-size="9.4" fill="#111" text-anchor="middle" font-family="Liberation Sans, sans-serif" >0.32</text>
<line x1="367.4" y1="393.4" x2="367.4" y2="397.4" stroke="#222" stroke-width="1"/>
<text x="367.4" y="410.7" font-size="9.4" fill="#111" text-anchor="middle" font-family="Liberation Sans, sans-serif" >0.4</text>
<line x1="393.7" y1="393.4" x2="393.7" y2="397.4" stroke="#222" stroke-width="1"/>
<text x="393.7" y="410.7" font-size="9.4" fill="#111" text-anchor="middle" font-family="Liberation Sans, sans-serif" >0.5</text>
<text x="191.8" y="410.9" font-size="9.4" fill="#111" text-anchor="middle" font-family="Liberation Sans, sans-serif" >0.3</text>
<text x="331.8" y="410.9" font-size="9.4" fill="#111" text-anchor="middle" font-family="Liberation Sans, sans-serif" >0.35</text>
<path d="M111,394.5 C112,398 116,399 122,399 L183,399 C188,399 191,400 191.8,402.5 C192.6,400 195.5,399 201,399 L262,399 C268,399 271,398 272,394.5" fill="none" stroke="#222" stroke-width="0.9"/>
<path d="M317.3,394.5 C318,397 320,397.6 324,397.6 L327,397.6 C330,397.6 331.3,398.5 331.8,400.5 C332.3,398.5 333.6,397.6 337,397.6 L340,397.6 C343,397.6 345,397 345.6,394.5" fill="none" stroke="#222" stroke-width="0.9"/>
<text x="222.3" y="422" font-size="11" fill="#111" text-anchor="start" font-family="Liberation Sans, sans-serif" >Ja</text>
<text x="142.8" y="274.6" font-size="11" fill="#111" text-anchor="start" font-family="Liberation Sans, sans-serif" >Ca</text>
<text x="156.6" y="277.4" font-size="7" fill="#111" text-anchor="start" font-family="Liberation Sans, sans-serif" >e</text>
<text x="160.9" y="274.6" font-size="10" fill="#111" text-anchor="start" font-family="Liberation Sans, sans-serif" >↑</text>
<path d="M120,333.3 C138,330 152,312 159.9,282" fill="none" stroke="#222" stroke-width="1.1"/>
<path d="M156.6,288.2 L159.9,281.8 L161.7,288.6" fill="none" stroke="#222" stroke-width="1.1"/>
<text x="216.2" y="274.6" font-size="11" fill="#111" text-anchor="start" font-family="Liberation Sans, sans-serif" >σ</text>
<text x="222.9" y="277.4" font-size="7" fill="#111" text-anchor="start" font-family="Liberation Sans, sans-serif" font-style="italic">l</text>
<text x="227.7" y="274.6" font-size="10" fill="#111" text-anchor="start" font-family="Liberation Sans, sans-serif" >↓</text>
<path d="M223.5,280.7 C224,300 240,314 272.9,322.8" fill="none" stroke="#222" stroke-width="1.1"/>
<path d="M266.4,318.6 L273.2,322.9 L266.2,324.6" fill="none" stroke="#222" stroke-width="1.1"/>
<text x="325.0" y="278.6" font-size="10.5" fill="#111" text-anchor="start" font-family="Liberation Sans, sans-serif" >Ja↑</text>
<line x1="305.2" y1="287.6" x2="369" y2="287.6" stroke="#111" stroke-width="1.1"/>
<path d="M366.8,285.5 L376.4,287.6 L366.8,289.7 Z" fill="#111"/>
<text x="23.6" y="233.1" font-size="13" fill="#000" text-anchor="start" font-family="Liberation Sans, sans-serif" >(b)</text>
<rect x="85.1" y="226.5" width="20.60000000000001" height="10.3" fill="#1c3167"/>
<rect x="111.0" y="226.5" width="20.900000000000006" height="10.3" fill="#f0674b"/>
<rect x="137.2" y="226.5" width="20.600000000000023" height="10.3" fill="#e8392c"/>
<rect x="163.4" y="226.5" width="20.599999999999994" height="10.3" fill="#3f7cc0"/>
<rect x="85.60000000000001" y="240.0" width="19.699999999999996" height="8.999999999999977" fill="#fff" stroke="#3f7cc0" stroke-width="1.4"/>
<rect x="111.7" y="240.0" width="19.500000000000007" height="8.999999999999977" fill="#fff" stroke="#f3b69c" stroke-width="1.4"/>
<rect x="137.89999999999998" y="240.0" width="19.200000000000024" height="8.999999999999977" fill="#fff" stroke="#ea5040" stroke-width="1.4"/>
<rect x="164.1" y="240.0" width="19.199999999999996" height="8.999999999999977" fill="url(#hR)" stroke="#e8392c" stroke-width="1.4"/>
<rect x="190.0" y="240.0" width="19.699999999999996" height="8.999999999999977" fill="url(#hLB)" stroke="#a9d3e8" stroke-width="1.4"/>
<rect x="216.2" y="240.0" width="19.6" height="8.999999999999977" fill="url(#hB)" stroke="#3f7cc0" stroke-width="1.4"/>
<rect x="241.7" y="239.3" width="21.30000000000001" height="10.399999999999977" fill="url(#g1)"/>
<rect x="241.7" y="239.3" width="21.30000000000001" height="10.399999999999977" fill="url(#hW)"/>
<rect x="267.8" y="239.3" width="21.5" height="10.399999999999977" fill="url(#g2)"/>
<rect x="267.8" y="239.3" width="21.5" height="10.399999999999977" fill="url(#hW)"/>
<rect x="294.0" y="239.3" width="21.0" height="10.399999999999977" fill="url(#g3)"/>
<rect x="294.0" y="239.3" width="21.0" height="10.399999999999977" fill="url(#hW)"/>
<text x="187.0" y="235.6" font-size="9.3" fill="#111" text-anchor="start" font-family="Liberation Sans, sans-serif" >Normal Boiling</text>
<text x="317.6" y="247.4" font-size="9.3" fill="#111" text-anchor="start" font-family="Liberation Sans, sans-serif" >Electric field Boiling</text>
<rect x="469.8" y="242.8" width="194.7" height="81.89999999999998" fill="url(#bgcT)"/>
<rect x="469.8" y="324.7" width="194.7" height="73.30000000000001" fill="url(#bgcB)"/>
<rect x="486" y="247.40" width="7.2" height="7.22" fill="#f4e61e"/>
<rect x="486" y="254.32" width="7.2" height="7.22" fill="#b5de2b"/>
<rect x="486" y="261.24" width="7.2" height="7.22" fill="#6ece58"/>
<rect x="486" y="268.17" width="7.2" height="7.22" fill="#3cbb75"/>
<rect x="486" y="275.09" width="7.2" height="7.22" fill="#24a184"/>
<rect x="486" y="282.01" width="7.2" height="7.22" fill="#25838e"/>
<rect x="486" y="288.93" width="7.2" height="7.22" fill="#30678d"/>
<rect x="486" y="295.86" width="7.2" height="7.22" fill="#3e4989"/>
<rect x="486" y="302.78" width="7.2" height="7.22" fill="#482777"/>
<rect x="486" y="302.78" width="7.2" height="6.92" fill="#440154"/>
<line x1="493.2" y1="247.4" x2="495" y2="247.4" stroke="#333" stroke-width="0.6"/>
<line x1="493.2" y1="309.7" x2="495" y2="309.7" stroke="#333" stroke-width="0.6"/>
<text x="497.5" y="249.8" font-size="6.6" fill="#222" text-anchor="start" font-family="Liberation Sans, sans-serif" >0.000</text>
<text x="497.5" y="312.09999999999997" font-size="6.6" fill="#222" text-anchor="start" font-family="Liberation Sans, sans-serif" >0.7500</text>
<g transform="translate(479.6,290.5) rotate(-90)"><text x="0" y="0" font-size="7.4" fill="#222" font-family="Liberation Sans, sans-serif">F</text><text x="4.6" y="2.2" font-size="5" fill="#222" font-family="Liberation Sans, sans-serif">sle</text><text x="13" y="0" font-size="7.4" fill="#222" font-family="Liberation Sans, sans-serif">/ F</text><text x="23.6" y="2.2" font-size="5" fill="#222" font-family="Liberation Sans, sans-serif">ext</text></g>
<line x1="524.9" y1="254.2" x2="530" y2="254.2" stroke="#222" stroke-width="1.2"/>
<line x1="535.1" y1="254.2" x2="540" y2="254.2" stroke="#222" stroke-width="1.2"/>
<text x="543.8" y="256.6" font-size="7.3" fill="#222" text-anchor="start" font-family="Liberation Sans, sans-serif" >R</text>
<text x="547.3" y="253.5" font-size="5" fill="#222" text-anchor="start" font-family="Liberation Sans, sans-serif" >*</text>
<text x="550.6" y="256.0" font-size="5" fill="#222" text-anchor="start" font-family="Liberation Sans, sans-serif" >&lt;&gt;</text>
<text x="560.4" y="256.6" font-size="7.3" fill="#222" text-anchor="start" font-family="Liberation Sans, sans-serif" >~</text>
<text x="567.6" y="256.6" font-size="7.3" fill="#222" text-anchor="start" font-family="Liberation Sans, sans-serif" >F</text>
<text x="574.1" y="253.8" font-size="4.6" fill="#222" text-anchor="start" font-family="Liberation Sans, sans-serif" >0.33</text>
<text x="574.5" y="259.0" font-size="4.6" fill="#222" text-anchor="start" font-family="Liberation Sans, sans-serif" >ext</text>
<rect x="530.70" y="261.70" width="5.40" height="5.40" fill="#f0ee2a"/>
<text x="543.6" y="267.0" font-size="7.2" fill="#222" text-anchor="start" font-family="Liberation Sans, sans-serif" >Case 1</text>
<circle cx="533.40" cy="273.50" r="3.00" fill="#f0ee2a"/>
<text x="543.6" y="276.1" font-size="7.2" fill="#222" text-anchor="start" font-family="Liberation Sans, sans-serif" >Case 2</text>
<path d="M533.40,279.10 L536.70,284.80 L530.10,284.80 Z" fill="#f0ee2a"/>
<text x="543.6" y="285.0" font-size="7.2" fill="#222" text-anchor="start" font-family="Liberation Sans, sans-serif" >Case 3</text>
<path d="M533.40,294.90 L536.70,289.20 L530.10,289.20 Z" fill="#f0ee2a"/>
<text x="543.6" y="294.20000000000005" font-size="7.2" fill="#222" text-anchor="start" font-family="Liberation Sans, sans-serif" >Case 4</text>
<path d="M533.40,297.10 L537.00,300.70 L533.40,304.30 L529.80,300.70 Z" fill="#f0ee2a"/>
<text x="543.6" y="303.3" font-size="7.2" fill="#222" text-anchor="start" font-family="Liberation Sans, sans-serif" >Case 5</text>
<line x1="495.4" y1="398" x2="645.5" y2="242.8" stroke="#1a1a1a" stroke-width="1.25" stroke-dasharray="4,2.8"/>
<rect x="492.76" y="375.06" width="4.68" height="4.68" fill="#e6ea3a"/>
<circle cx="494.00" cy="388.40" r="2.60" fill="#2a9d8a"/>
<path d="M507.20,372.74 L510.06,377.68 L504.34,377.68 Z" fill="#4fc07a"/>
<path d="M509.50,377.08 L512.62,380.20 L509.50,383.32 L506.38,380.20 Z" fill="#3a5a98"/>
<circle cx="513.00" cy="372.00" r="2.60" fill="#3cbb75"/>
<circle cx="516.50" cy="368.00" r="2.60" fill="#43bf71"/>
<circle cx="523.50" cy="362.30" r="2.60" fill="#6ece58"/>
<circle cx="531.60" cy="352.30" r="2.60" fill="#86d549"/>
<circle cx="531.60" cy="355.80" r="2.60" fill="#b5de2b"/>
<path d="M535.00,355.74 L537.86,360.68 L532.14,360.68 Z" fill="#2c8a8e"/>
<path d="M536.30,351.58 L539.42,354.70 L536.30,357.82 L533.18,354.70 Z" fill="#3cbb75"/>
<path d="M539.80,346.88 L542.92,350.00 L539.80,353.12 L536.68,350.00 Z" fill="#35b779"/>
<path d="M544.40,347.06 L547.26,342.12 L541.54,342.12 Z" fill="#c8e020"/>
<path d="M544.40,347.14 L547.26,352.08 L541.54,352.08 Z" fill="#2a9a8a"/>
<path d="M551.40,336.38 L554.52,339.50 L551.40,342.62 L548.28,339.50 Z" fill="#3cbb75"/>
<circle cx="554.90" cy="332.60" r="2.60" fill="#d8e21e"/>
<path d="M559.50,331.54 L562.36,336.48 L556.64,336.48 Z" fill="#2a9a8a"/>
<path d="M561.90,325.88 L565.02,329.00 L561.90,332.12 L558.78,329.00 Z" fill="#4ec36b"/>
<circle cx="558.40" cy="323.30" r="2.60" fill="#f0ee2a"/>
<circle cx="564.20" cy="319.80" r="2.60" fill="#f0ee2a"/>
<circle cx="567.70" cy="316.30" r="2.60" fill="#f0ee2a"/>
<path d="M589.50,300.88 L592.62,304.00 L589.50,307.12 L586.38,304.00 Z" fill="#6ece58"/>
<path d="M561.60,325.28 L564.72,328.40 L561.60,331.52 L558.48,328.40 Z" fill="#5ec962"/>
<path d="M554.70,332.44 L557.56,337.38 L551.84,337.38 Z" fill="#4ac16d"/>
<path d="M562.5,319.5 L574.5,308 L589.5,296 L603.5,283.5 L617.5,270.5 L629.5,260 L639.5,251.5" fill="none" stroke="#f0ee2a" stroke-width="8.4" stroke-linecap="round" stroke-linejoin="round"/>
<circle cx="562.6" cy="319.6" r="3.3" fill="#f0ee2a"/>
<circle cx="565.5" cy="318.1" r="2.6" fill="#f0ee2a"/>
<circle cx="566.0" cy="314.2" r="3.3" fill="#f0ee2a"/>
<circle cx="567.1" cy="311.0" r="3.2" fill="#f0ee2a"/>
<circle cx="572.6" cy="312.0" r="2.9" fill="#f0ee2a"/>
<circle cx="573.0" cy="308.0" r="2.7" fill="#f0ee2a"/>
<circle cx="575.1" cy="305.8" r="2.8" fill="#f0ee2a"/>
<circle cx="578.4" cy="304.7" r="3.0" fill="#f0ee2a"/>
<circle cx="582.7" cy="304.5" r="3.2" fill="#f0ee2a"/>
<circle cx="583.6" cy="301.0" r="3.4" fill="#f0ee2a"/>
<circle cx="584.3" cy="297.4" r="2.6" fill="#f0ee2a"/>
<circle cx="588.2" cy="296.9" r="2.4" fill="#f0ee2a"/>
<circle cx="588.3" cy="292.5" r="2.9" fill="#f0ee2a"/>
<circle cx="592.3" cy="292.2" r="3.3" fill="#f0ee2a"/>
<circle cx="595.3" cy="290.7" r="2.9" fill="#f0ee2a"/>
<circle cx="597.1" cy="288.2" r="2.6" fill="#f0ee2a"/>
<circle cx="597.5" cy="284.2" r="2.6" fill="#f0ee2a"/>
<circle cx="602.5" cy="284.8" r="2.6" fill="#f0ee2a"/>
<circle cx="603.6" cy="281.5" r="2.4" fill="#f0ee2a"/>
<circle cx="607.7" cy="281.2" r="2.6" fill="#f0ee2a"/>
<circle cx="607.8" cy="277.0" r="3.3" fill="#f0ee2a"/>
<circle cx="611.1" cy="275.8" r="3.2" fill="#f0ee2a"/>
<circle cx="614.0" cy="274.3" r="3.1" fill="#f0ee2a"/>
<circle cx="614.1" cy="270.1" r="2.9" fill="#f0ee2a"/>
<circle cx="618.1" cy="269.7" r="3.3" fill="#f0ee2a"/>
<circle cx="619.9" cy="267.0" r="3.0" fill="#f0ee2a"/>
<circle cx="621.0" cy="263.8" r="2.8" fill="#f0ee2a"/>
<circle cx="624.4" cy="262.7" r="2.6" fill="#f0ee2a"/>
<circle cx="628.7" cy="262.6" r="2.8" fill="#f0ee2a"/>
<circle cx="631.6" cy="261.2" r="3.0" fill="#f0ee2a"/>
<circle cx="632.5" cy="257.7" r="3.0" fill="#f0ee2a"/>
<circle cx="635.1" cy="255.9" r="2.6" fill="#f0ee2a"/>
<circle cx="636.5" cy="252.9" r="2.6" fill="#f0ee2a"/>
<circle cx="638.7" cy="250.7" r="2.5" fill="#f0ee2a"/>
<circle cx="558.4" cy="323.3" r="3" fill="#f0ee2a"/>
<rect x="469.8" y="242.8" width="194.7" height="155.2" fill="none" stroke="#222" stroke-width="1.1"/>
<line x1="465.2" y1="379.7" x2="469.8" y2="379.7" stroke="#222" stroke-width="1"/>
<text x="463.5" y="383.0" font-size="9.2" fill="#111" text-anchor="end" font-family="Liberation Sans, sans-serif" >0.26</text>
<line x1="465.2" y1="325.9" x2="469.8" y2="325.9" stroke="#222" stroke-width="1"/>
<text x="463.5" y="329.2" font-size="9.2" fill="#111" text-anchor="end" font-family="Liberation Sans, sans-serif" >0.51</text>
<line x1="465.2" y1="294.5" x2="469.8" y2="294.5" stroke="#222" stroke-width="1"/>
<text x="463.5" y="297.8" font-size="9.2" fill="#111" text-anchor="end" font-family="Liberation Sans, sans-serif" >0.77</text>
<line x1="465.2" y1="272.4" x2="469.8" y2="272.4" stroke="#222" stroke-width="1"/>
<text x="463.5" y="275.7" font-size="9.2" fill="#111" text-anchor="end" font-family="Liberation Sans, sans-serif" >1.02</text>
<line x1="465.2" y1="254.5" x2="469.8" y2="254.5" stroke="#222" stroke-width="1"/>
<text x="463.5" y="257.8" font-size="9.2" fill="#111" text-anchor="end" font-family="Liberation Sans, sans-serif" >1.28</text>
<line x1="467.6" y1="387.98" x2="469.8" y2="387.98" stroke="#333" stroke-width="0.55"/>
<line x1="467.6" y1="379.70" x2="469.8" y2="379.70" stroke="#333" stroke-width="0.55"/>
<line x1="467.6" y1="372.21" x2="469.8" y2="372.21" stroke="#333" stroke-width="0.55"/>
<line x1="467.6" y1="365.38" x2="469.8" y2="365.38" stroke="#333" stroke-width="0.55"/>
<line x1="467.6" y1="359.09" x2="469.8" y2="359.09" stroke="#333" stroke-width="0.55"/>
<line x1="467.6" y1="353.27" x2="469.8" y2="353.27" stroke="#333" stroke-width="0.55"/>
<line x1="467.6" y1="347.85" x2="469.8" y2="347.85" stroke="#333" stroke-width="0.55"/>
<line x1="467.6" y1="342.77" x2="469.8" y2="342.77" stroke="#333" stroke-width="0.55"/>
<line x1="467.6" y1="338.01" x2="469.8" y2="338.01" stroke="#333" stroke-width="0.55"/>
<line x1="467.6" y1="333.52" x2="469.8" y2="333.52" stroke="#333" stroke-width="0.55"/>
<line x1="467.6" y1="329.27" x2="469.8" y2="329.27" stroke="#333" stroke-width="0.55"/>
<line x1="467.6" y1="325.24" x2="469.8" y2="325.24" stroke="#333" stroke-width="0.55"/>
<line x1="467.6" y1="321.41" x2="469.8" y2="321.41" stroke="#333" stroke-width="0.55"/>
<line x1="467.6" y1="317.76" x2="469.8" y2="317.76" stroke="#333" stroke-width="0.55"/>
<line x1="467.6" y1="314.26" x2="469.8" y2="314.26" stroke="#333" stroke-width="0.55"/>
<line x1="467.6" y1="310.92" x2="469.8" y2="310.92" stroke="#333" stroke-width="0.55"/>
<line x1="467.6" y1="307.71" x2="469.8" y2="307.71" stroke="#333" stroke-width="0.55"/>
<line x1="467.6" y1="304.63" x2="469.8" y2="304.63" stroke="#333" stroke-width="0.55"/>
<line x1="467.6" y1="301.67" x2="469.8" y2="301.67" stroke="#333" stroke-width="0.55"/>
<line x1="467.6" y1="298.81" x2="469.8" y2="298.81" stroke="#333" stroke-width="0.55"/>
<line x1="467.6" y1="296.05" x2="469.8" y2="296.05" stroke="#333" stroke-width="0.55"/>
<line x1="467.6" y1="293.39" x2="469.8" y2="293.39" stroke="#333" stroke-width="0.55"/>
<line x1="467.6" y1="290.81" x2="469.8" y2="290.81" stroke="#333" stroke-width="0.55"/>
<line x1="467.6" y1="288.32" x2="469.8" y2="288.32" stroke="#333" stroke-width="0.55"/>
<line x1="467.6" y1="285.90" x2="469.8" y2="285.90" stroke="#333" stroke-width="0.55"/>
<line x1="467.6" y1="283.56" x2="469.8" y2="283.56" stroke="#333" stroke-width="0.55"/>
<line x1="467.6" y1="281.28" x2="469.8" y2="281.28" stroke="#333" stroke-width="0.55"/>
<line x1="467.6" y1="279.06" x2="469.8" y2="279.06" stroke="#333" stroke-width="0.55"/>
<line x1="467.6" y1="276.91" x2="469.8" y2="276.91" stroke="#333" stroke-width="0.55"/>
<line x1="467.6" y1="274.82" x2="469.8" y2="274.82" stroke="#333" stroke-width="0.55"/>
<line x1="467.6" y1="272.78" x2="469.8" y2="272.78" stroke="#333" stroke-width="0.55"/>
<line x1="467.6" y1="270.79" x2="469.8" y2="270.79" stroke="#333" stroke-width="0.55"/>
<line x1="467.6" y1="268.85" x2="469.8" y2="268.85" stroke="#333" stroke-width="0.55"/>
<line x1="467.6" y1="266.95" x2="469.8" y2="266.95" stroke="#333" stroke-width="0.55"/>
<line x1="467.6" y1="265.11" x2="469.8" y2="265.11" stroke="#333" stroke-width="0.55"/>
<line x1="467.6" y1="263.30" x2="469.8" y2="263.30" stroke="#333" stroke-width="0.55"/>
<line x1="467.6" y1="261.53" x2="469.8" y2="261.53" stroke="#333" stroke-width="0.55"/>
<line x1="467.6" y1="259.81" x2="469.8" y2="259.81" stroke="#333" stroke-width="0.55"/>
<line x1="467.6" y1="258.12" x2="469.8" y2="258.12" stroke="#333" stroke-width="0.55"/>
<line x1="467.6" y1="256.46" x2="469.8" y2="256.46" stroke="#333" stroke-width="0.55"/>
<line x1="467.6" y1="254.84" x2="469.8" y2="254.84" stroke="#333" stroke-width="0.55"/>
<line x1="467.6" y1="253.26" x2="469.8" y2="253.26" stroke="#333" stroke-width="0.55"/>
<line x1="467.6" y1="251.70" x2="469.8" y2="251.70" stroke="#333" stroke-width="0.55"/>
<line x1="467.6" y1="250.17" x2="469.8" y2="250.17" stroke="#333" stroke-width="0.55"/>
<line x1="467.6" y1="248.68" x2="469.8" y2="248.68" stroke="#333" stroke-width="0.55"/>
<line x1="467.6" y1="247.21" x2="469.8" y2="247.21" stroke="#333" stroke-width="0.55"/>
<line x1="467.6" y1="245.77" x2="469.8" y2="245.77" stroke="#333" stroke-width="0.55"/>
<line x1="467.6" y1="244.35" x2="469.8" y2="244.35" stroke="#333" stroke-width="0.55"/>
<line x1="467.6" y1="242.96" x2="469.8" y2="242.96" stroke="#333" stroke-width="0.55"/>
<line x1="476.00" y1="398.0" x2="476.00" y2="401.6" stroke="#222" stroke-width="1"/>
<text x="477.20" y="412.4" font-size="8.8" fill="#111" text-anchor="end" font-family="Liberation Sans, sans-serif">10</text>
<text x="477.60" y="408.2" font-size="6.2" fill="#111" font-family="Liberation Sans, sans-serif">−2</text>
<line x1="493.29" y1="398.0" x2="493.29" y2="400.0" stroke="#333" stroke-width="0.6"/>
<line x1="503.41" y1="398.0" x2="503.41" y2="400.0" stroke="#333" stroke-width="0.6"/>
<line x1="510.59" y1="398.0" x2="510.59" y2="400.0" stroke="#333" stroke-width="0.6"/>
<line x1="516.16" y1="398.0" x2="516.16" y2="400.0" stroke="#333" stroke-width="0.6"/>
<line x1="520.70" y1="398.0" x2="520.70" y2="400.0" stroke="#333" stroke-width="0.6"/>
<line x1="524.55" y1="398.0" x2="524.55" y2="400.0" stroke="#333" stroke-width="0.6"/>
<line x1="527.88" y1="398.0" x2="527.88" y2="400.0" stroke="#333" stroke-width="0.6"/>
<line x1="530.82" y1="398.0" x2="530.82" y2="400.0" stroke="#333" stroke-width="0.6"/>
<line x1="533.45" y1="398.0" x2="533.45" y2="401.6" stroke="#222" stroke-width="1"/>
<text x="534.65" y="412.4" font-size="8.8" fill="#111" text-anchor="end" font-family="Liberation Sans, sans-serif">10</text>
<text x="535.05" y="408.2" font-size="6.2" fill="#111" font-family="Liberation Sans, sans-serif">−1</text>
<line x1="550.74" y1="398.0" x2="550.74" y2="400.0" stroke="#333" stroke-width="0.6"/>
<line x1="560.86" y1="398.0" x2="560.86" y2="400.0" stroke="#333" stroke-width="0.6"/>
<line x1="568.04" y1="398.0" x2="568.04" y2="400.0" stroke="#333" stroke-width="0.6"/>
<line x1="573.61" y1="398.0" x2="573.61" y2="400.0" stroke="#333" stroke-width="0.6"/>
<line x1="578.15" y1="398.0" x2="578.15" y2="400.0" stroke="#333" stroke-width="0.6"/>
<line x1="582.00" y1="398.0" x2="582.00" y2="400.0" stroke="#333" stroke-width="0.6"/>
<line x1="585.33" y1="398.0" x2="585.33" y2="400.0" stroke="#333" stroke-width="0.6"/>
<line x1="588.27" y1="398.0" x2="588.27" y2="400.0" stroke="#333" stroke-width="0.6"/>
<line x1="590.90" y1="398.0" x2="590.90" y2="401.6" stroke="#222" stroke-width="1"/>
<text x="592.10" y="412.4" font-size="8.8" fill="#111" text-anchor="end" font-family="Liberation Sans, sans-serif">10</text>
<text x="592.50" y="408.2" font-size="6.2" fill="#111" font-family="Liberation Sans, sans-serif">0</text>
<line x1="608.19" y1="398.0" x2="608.19" y2="400.0" stroke="#333" stroke-width="0.6"/>
<line x1="618.31" y1="398.0" x2="618.31" y2="400.0" stroke="#333" stroke-width="0.6"/>
<line x1="625.49" y1="398.0" x2="625.49" y2="400.0" stroke="#333" stroke-width="0.6"/>
<line x1="631.06" y1="398.0" x2="631.06" y2="400.0" stroke="#333" stroke-width="0.6"/>
<line x1="635.60" y1="398.0" x2="635.60" y2="400.0" stroke="#333" stroke-width="0.6"/>
<line x1="639.45" y1="398.0" x2="639.45" y2="400.0" stroke="#333" stroke-width="0.6"/>
<line x1="642.78" y1="398.0" x2="642.78" y2="400.0" stroke="#333" stroke-width="0.6"/>
<line x1="645.72" y1="398.0" x2="645.72" y2="400.0" stroke="#333" stroke-width="0.6"/>
<line x1="648.35" y1="398.0" x2="648.35" y2="401.6" stroke="#222" stroke-width="1"/>
<text x="649.55" y="412.4" font-size="8.8" fill="#111" text-anchor="end" font-family="Liberation Sans, sans-serif">10</text>
<text x="649.95" y="408.2" font-size="6.2" fill="#111" font-family="Liberation Sans, sans-serif">1</text>
<text x="559.2" y="424.8" font-size="11.3" fill="#111" font-family="Liberation Sans, sans-serif">F</text>
<text x="566.2" y="427.8" font-size="7.6" fill="#111" font-family="Liberation Sans, sans-serif">ext</text>
<g transform="translate(432.6,324) rotate(-90)"><text x="0" y="0" font-size="11" fill="#111" font-family="Liberation Sans, sans-serif">R</text><text x="8.2" y="-5.2" font-size="7" fill="#111" font-family="Liberation Sans, sans-serif">*</text><text x="12.1" y="0" font-size="10" fill="#111" font-family="Liberation Sans, sans-serif">&lt;&gt;</text></g>
<text x="455" y="233.1" font-size="13" fill="#000" text-anchor="start" font-family="Liberation Sans, sans-serif" >(c)</text>
</svg>
</body></html>
